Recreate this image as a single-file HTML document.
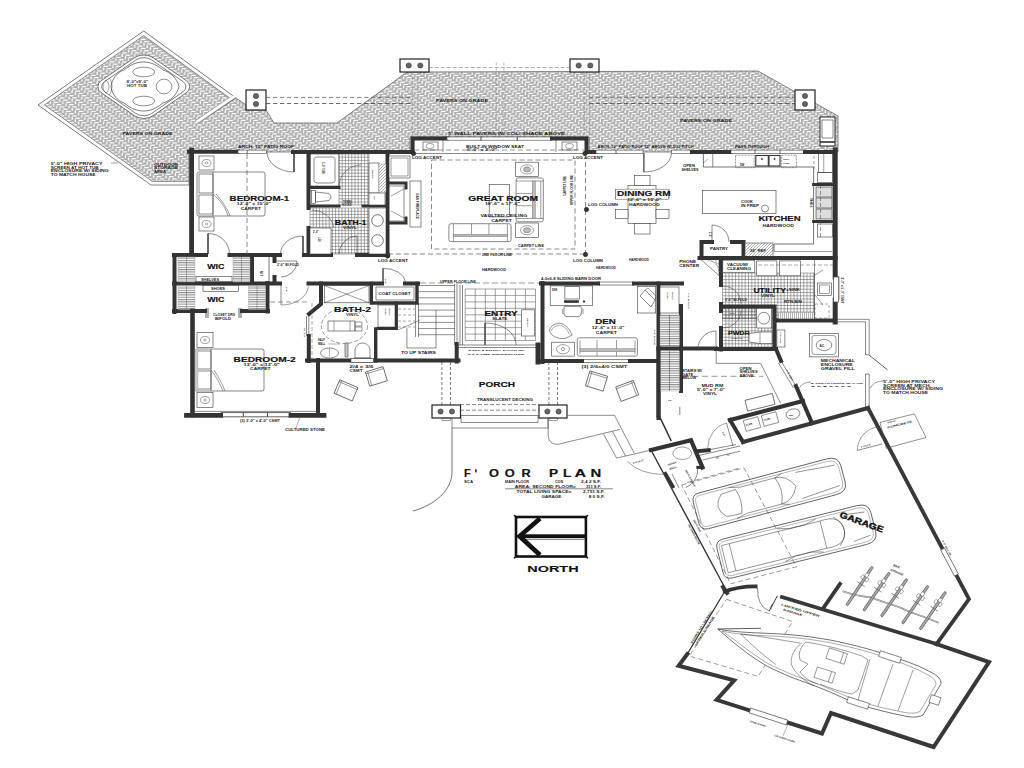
<!DOCTYPE html><html><head><meta charset="utf-8"><style>html,body{margin:0;padding:0;background:#fff;width:1024px;height:768px;overflow:hidden}svg{display:block;font-family:"Liberation Sans",sans-serif}</style></head><body>
<svg width="1024" height="768" viewBox="0 0 1024 768">
<defs><pattern id="pv" width="12.5" height="9" patternUnits="userSpaceOnUse"><rect width="12.5" height="9.0" fill="#afafaf"/><rect x="-12.10" y="-8.45" width="4.6" height="1.25" fill="#fff"/><rect x="-6.55" y="-11.30" width="1.35" height="3.0" fill="#fff"/><rect x="-12.10" y="0.55" width="4.6" height="1.25" fill="#fff"/><rect x="-6.55" y="-2.30" width="1.35" height="3.0" fill="#fff"/><rect x="-12.10" y="9.55" width="4.6" height="1.25" fill="#fff"/><rect x="-6.55" y="6.70" width="1.35" height="3.0" fill="#fff"/><rect x="0.40" y="-8.45" width="4.6" height="1.25" fill="#fff"/><rect x="5.95" y="-11.30" width="1.35" height="3.0" fill="#fff"/><rect x="0.40" y="0.55" width="4.6" height="1.25" fill="#fff"/><rect x="5.95" y="-2.30" width="1.35" height="3.0" fill="#fff"/><rect x="0.40" y="9.55" width="4.6" height="1.25" fill="#fff"/><rect x="5.95" y="6.70" width="1.35" height="3.0" fill="#fff"/><rect x="12.90" y="-8.45" width="4.6" height="1.25" fill="#fff"/><rect x="18.45" y="-11.30" width="1.35" height="3.0" fill="#fff"/><rect x="12.90" y="0.55" width="4.6" height="1.25" fill="#fff"/><rect x="18.45" y="-2.30" width="1.35" height="3.0" fill="#fff"/><rect x="12.90" y="9.55" width="4.6" height="1.25" fill="#fff"/><rect x="18.45" y="6.70" width="1.35" height="3.0" fill="#fff"/><rect x="-8.97" y="-6.20" width="4.6" height="1.25" fill="#fff"/><rect x="-3.42" y="-9.05" width="1.35" height="3.0" fill="#fff"/><rect x="-8.97" y="2.80" width="4.6" height="1.25" fill="#fff"/><rect x="-3.42" y="-0.05" width="1.35" height="3.0" fill="#fff"/><rect x="-8.97" y="11.80" width="4.6" height="1.25" fill="#fff"/><rect x="-3.42" y="8.95" width="1.35" height="3.0" fill="#fff"/><rect x="3.52" y="-6.20" width="4.6" height="1.25" fill="#fff"/><rect x="9.07" y="-9.05" width="1.35" height="3.0" fill="#fff"/><rect x="3.52" y="2.80" width="4.6" height="1.25" fill="#fff"/><rect x="9.07" y="-0.05" width="1.35" height="3.0" fill="#fff"/><rect x="3.52" y="11.80" width="4.6" height="1.25" fill="#fff"/><rect x="9.07" y="8.95" width="1.35" height="3.0" fill="#fff"/><rect x="16.02" y="-6.20" width="4.6" height="1.25" fill="#fff"/><rect x="21.57" y="-9.05" width="1.35" height="3.0" fill="#fff"/><rect x="16.02" y="2.80" width="4.6" height="1.25" fill="#fff"/><rect x="21.57" y="-0.05" width="1.35" height="3.0" fill="#fff"/><rect x="16.02" y="11.80" width="4.6" height="1.25" fill="#fff"/><rect x="21.57" y="8.95" width="1.35" height="3.0" fill="#fff"/><rect x="-5.85" y="-3.95" width="4.6" height="1.25" fill="#fff"/><rect x="-0.30" y="-6.80" width="1.35" height="3.0" fill="#fff"/><rect x="-5.85" y="5.05" width="4.6" height="1.25" fill="#fff"/><rect x="-0.30" y="2.20" width="1.35" height="3.0" fill="#fff"/><rect x="-5.85" y="14.05" width="4.6" height="1.25" fill="#fff"/><rect x="-0.30" y="11.20" width="1.35" height="3.0" fill="#fff"/><rect x="6.65" y="-3.95" width="4.6" height="1.25" fill="#fff"/><rect x="12.20" y="-6.80" width="1.35" height="3.0" fill="#fff"/><rect x="6.65" y="5.05" width="4.6" height="1.25" fill="#fff"/><rect x="12.20" y="2.20" width="1.35" height="3.0" fill="#fff"/><rect x="6.65" y="14.05" width="4.6" height="1.25" fill="#fff"/><rect x="12.20" y="11.20" width="1.35" height="3.0" fill="#fff"/><rect x="19.15" y="-3.95" width="4.6" height="1.25" fill="#fff"/><rect x="24.70" y="-6.80" width="1.35" height="3.0" fill="#fff"/><rect x="19.15" y="5.05" width="4.6" height="1.25" fill="#fff"/><rect x="24.70" y="2.20" width="1.35" height="3.0" fill="#fff"/><rect x="19.15" y="14.05" width="4.6" height="1.25" fill="#fff"/><rect x="24.70" y="11.20" width="1.35" height="3.0" fill="#fff"/><rect x="-2.73" y="-1.70" width="4.6" height="1.25" fill="#fff"/><rect x="2.83" y="-4.55" width="1.35" height="3.0" fill="#fff"/><rect x="-2.73" y="7.30" width="4.6" height="1.25" fill="#fff"/><rect x="2.83" y="4.45" width="1.35" height="3.0" fill="#fff"/><rect x="-2.73" y="16.30" width="4.6" height="1.25" fill="#fff"/><rect x="2.83" y="13.45" width="1.35" height="3.0" fill="#fff"/><rect x="9.78" y="-1.70" width="4.6" height="1.25" fill="#fff"/><rect x="15.32" y="-4.55" width="1.35" height="3.0" fill="#fff"/><rect x="9.78" y="7.30" width="4.6" height="1.25" fill="#fff"/><rect x="15.32" y="4.45" width="1.35" height="3.0" fill="#fff"/><rect x="9.78" y="16.30" width="4.6" height="1.25" fill="#fff"/><rect x="15.32" y="13.45" width="1.35" height="3.0" fill="#fff"/><rect x="22.27" y="-1.70" width="4.6" height="1.25" fill="#fff"/><rect x="27.82" y="-4.55" width="1.35" height="3.0" fill="#fff"/><rect x="22.27" y="7.30" width="4.6" height="1.25" fill="#fff"/><rect x="27.82" y="4.45" width="1.35" height="3.0" fill="#fff"/><rect x="22.27" y="16.30" width="4.6" height="1.25" fill="#fff"/><rect x="27.82" y="13.45" width="1.35" height="3.0" fill="#fff"/></pattern>
<pattern id="hv" width="2" height="2" patternUnits="userSpaceOnUse"><rect width="2" height="2" fill="#fff"/><path d="M0.6,0V2" stroke="#777" stroke-width="0.6"/></pattern><pattern id="hh" width="4" height="2.3" patternUnits="userSpaceOnUse"><rect width="4" height="2.3" fill="#fff"/><path d="M0,0.6H4" stroke="#707070" stroke-width="0.85"/></pattern>
<pattern id="dg" width="3" height="3" patternUnits="userSpaceOnUse"><rect width="3" height="3" fill="#fff"/><path d="M0,3L3,0" stroke="#777" stroke-width="0.6"/></pattern>
</defs>
<rect width="1024" height="768" fill="#fff"/>
<clipPath id="pc"><polygon points="143.7,31 234.6,97 246,105 246,110 266,110 274,123 337,123 407,72 758,71 838,116 838,152 589,152 589,137 410,137 410,152 189,152 189,185 151,185 38,105"/></clipPath>
<polygon points="143.7,31.0 234.6,97.0 246.0,105.0 246.0,110.0 266.0,110.0 274.0,123.0 337.0,123.0 407.0,72.0 758.0,71.0 838.0,116.0 838.0,152.0 589.0,152.0 589.0,137.0 410.0,137.0 410.0,152.0 189.0,152.0 189.0,185.0 151.0,185.0 38.0,105.0" fill="url(#pv)" stroke="none" stroke-width="0"/>
<g clip-path="url(#pc)">
<path d="M234.6,97 L143.7,31 L38,105 L151,185 L189,185" fill="none" stroke="#777" stroke-width="8.2"/>
<path d="M234.6,97 L143.7,31 L38,105 L151,185 L189,185" fill="none" stroke="#fff" stroke-width="6.6"/>
</g>
<polygon points="143.7,31.0 234.6,97.0 246.0,105.0 246.0,110.0 266.0,110.0 274.0,123.0 337.0,123.0 407.0,72.0 758.0,71.0 838.0,116.0 838.0,152.0 589.0,152.0 589.0,137.0 410.0,137.0 410.0,152.0 189.0,152.0 189.0,185.0 151.0,185.0 38.0,105.0" fill="none" stroke="#555" stroke-width="0.7"/>
<path d="M234.6,97 L196.5,122" fill="none" stroke="#777" stroke-width="4.2"/>
<path d="M234.9,96 L196.5,122" fill="none" stroke="#fff" stroke-width="2.8"/>
<g transform="translate(143.8 86.7) scale(1 0.69) rotate(45)"><rect x="-36.3" y="-36.3" width="72.6" height="72.6" rx="13" fill="#fff" stroke="#555" stroke-width="0.8" vector-effect="non-scaling-stroke"/><rect x="-33" y="-33" width="66" height="66" rx="11" fill="#fff" stroke="#444" stroke-width="0.7" vector-effect="non-scaling-stroke"/></g>
<path d="M143.7,62 C152,62 158,66 163,70 C170,72 177,78 179,86.5 C177,95 170,101 163,103 C158,107 152,111 143.7,111 C135,111 129,107 124,103 C118,101 112,95 111,86.5 C112,78 118,72 124,70 C129,66 135,62 143.7,62 Z" fill="none" stroke="#444" stroke-width="0.7"/>
<ellipse cx="143.7" cy="72" rx="11" ry="4.8" fill="#fff" stroke="#444" stroke-width="0.6"/>
<ellipse cx="143.7" cy="101" rx="11" ry="4.8" fill="#fff" stroke="#444" stroke-width="0.6"/>
<ellipse cx="164" cy="86.5" rx="7.8" ry="7.4" fill="#fff" stroke="#444" stroke-width="0.6"/>
<path d="M106,80 C110,83 110,90 106,93 C102,90 102,83 106,80 Z M109,78 C113,82 113,91 109,95" fill="none" stroke="#444" stroke-width="0.5"/>
<text x="126.5" y="82.5" font-size="3.2" font-weight="bold" textLength="21.5" lengthAdjust="spacingAndGlyphs" text-anchor="start" fill="#333">8'-0"x8'-0"</text>
<text x="127" y="86.8" font-size="3.2" font-weight="bold" textLength="20" lengthAdjust="spacingAndGlyphs" text-anchor="start" fill="#333">HOT TUB</text>
<text x="122.5" y="135" font-size="3" font-weight="bold" textLength="50" lengthAdjust="spacingAndGlyphs" text-anchor="start" fill="#222">PAVERS ON GRADE</text>
<rect x="246" y="90" width="20" height="20" rx="0" fill="#fff" stroke="#222" stroke-width="1.2"/>
<circle cx="256.0" cy="96.0" r="2.6" fill="#666" stroke="#333" stroke-width="0.6"/>
<circle cx="256.0" cy="104.0" r="2.6" fill="#666" stroke="#333" stroke-width="0.6"/>
<rect x="400" y="59" width="29" height="13" rx="0" fill="#fff" stroke="#222" stroke-width="1.2"/>
<circle cx="408.7" cy="65.5" r="2.6" fill="#666" stroke="#333" stroke-width="0.6"/>
<circle cx="420.3" cy="65.5" r="2.6" fill="#666" stroke="#333" stroke-width="0.6"/>
<rect x="570" y="59" width="29" height="13" rx="0" fill="#fff" stroke="#222" stroke-width="1.2"/>
<circle cx="578.7" cy="65.5" r="2.6" fill="#666" stroke="#333" stroke-width="0.6"/>
<circle cx="590.3" cy="65.5" r="2.6" fill="#666" stroke="#333" stroke-width="0.6"/>
<rect x="795" y="90" width="20" height="20" rx="0" fill="#fff" stroke="#222" stroke-width="1.2"/>
<circle cx="805.0" cy="96.0" r="2.6" fill="#666" stroke="#333" stroke-width="0.6"/>
<circle cx="805.0" cy="104.0" r="2.6" fill="#666" stroke="#333" stroke-width="0.6"/>
<line x1="266" y1="97.4" x2="412" y2="97.4" stroke="#555" stroke-width="0.75" stroke-dasharray="4.3,2.7"/>
<line x1="266" y1="103.5" x2="412" y2="103.5" stroke="#444" stroke-width="0.8" stroke-dasharray="4.3,2.7"/>
<line x1="589" y1="97.4" x2="795" y2="97.4" stroke="#555" stroke-width="0.75" stroke-dasharray="4.3,2.7"/>
<line x1="589" y1="103.5" x2="795" y2="103.5" stroke="#444" stroke-width="0.8" stroke-dasharray="4.3,2.7"/>
<line x1="412.6" y1="72" x2="412.6" y2="137" stroke="#888" stroke-width="0.6" stroke-dasharray="3,2"/>
<line x1="418" y1="72" x2="418" y2="137" stroke="#888" stroke-width="0.6" stroke-dasharray="3,2"/>
<line x1="496.3" y1="62.5" x2="496.3" y2="137" stroke="#888" stroke-width="0.6" stroke-dasharray="3,2"/>
<line x1="503.9" y1="62.5" x2="503.9" y2="137" stroke="#888" stroke-width="0.6" stroke-dasharray="3,2"/>
<line x1="584.4" y1="72" x2="584.4" y2="137" stroke="#888" stroke-width="0.6" stroke-dasharray="3,2"/>
<line x1="589.8" y1="72" x2="589.8" y2="137" stroke="#888" stroke-width="0.6" stroke-dasharray="3,2"/>
<line x1="428.7" y1="67.5" x2="570" y2="67.5" stroke="#777" stroke-width="0.6" stroke-dasharray="4,2"/>
<text x="436" y="101.5" font-size="3" font-weight="bold" textLength="52" lengthAdjust="spacingAndGlyphs" text-anchor="start" fill="#222">PAVERS ON GRADE</text>
<text x="680" y="121.5" font-size="3" font-weight="bold" textLength="52" lengthAdjust="spacingAndGlyphs" text-anchor="start" fill="#222">PAVERS ON GRADE</text>
<rect x="820" y="117" width="15" height="29" rx="0" fill="#fff" stroke="#222" stroke-width="1"/>
<rect x="822" y="120" width="11" height="18" rx="0" fill="none" stroke="#3a3a3a" stroke-width="0.6"/>
<line x1="820" y1="142" x2="835" y2="142" stroke="#222" stroke-width="1.5"/>
<line x1="342.2" y1="154" x2="342.2" y2="205" stroke="#555" stroke-width="0.5"/>
<line x1="345.4" y1="154" x2="345.4" y2="205" stroke="#555" stroke-width="0.5"/>
<line x1="348.6" y1="154" x2="348.6" y2="205" stroke="#555" stroke-width="0.5"/>
<line x1="351.8" y1="154" x2="351.8" y2="205" stroke="#555" stroke-width="0.5"/>
<line x1="355.0" y1="154" x2="355.0" y2="205" stroke="#555" stroke-width="0.5"/>
<line x1="358.2" y1="154" x2="358.2" y2="205" stroke="#555" stroke-width="0.5"/>
<line x1="361.4" y1="154" x2="361.4" y2="205" stroke="#555" stroke-width="0.5"/>
<line x1="364.6" y1="154" x2="364.6" y2="205" stroke="#555" stroke-width="0.5"/>
<line x1="367.8" y1="154" x2="367.8" y2="205" stroke="#555" stroke-width="0.5"/>
<line x1="339" y1="157.2" x2="369" y2="157.2" stroke="#555" stroke-width="0.5"/>
<line x1="339" y1="160.4" x2="369" y2="160.4" stroke="#555" stroke-width="0.5"/>
<line x1="339" y1="163.6" x2="369" y2="163.6" stroke="#555" stroke-width="0.5"/>
<line x1="339" y1="166.8" x2="369" y2="166.8" stroke="#555" stroke-width="0.5"/>
<line x1="339" y1="170.0" x2="369" y2="170.0" stroke="#555" stroke-width="0.5"/>
<line x1="339" y1="173.2" x2="369" y2="173.2" stroke="#555" stroke-width="0.5"/>
<line x1="339" y1="176.4" x2="369" y2="176.4" stroke="#555" stroke-width="0.5"/>
<line x1="339" y1="179.6" x2="369" y2="179.6" stroke="#555" stroke-width="0.5"/>
<line x1="339" y1="182.8" x2="369" y2="182.8" stroke="#555" stroke-width="0.5"/>
<line x1="339" y1="186.0" x2="369" y2="186.0" stroke="#555" stroke-width="0.5"/>
<line x1="339" y1="189.2" x2="369" y2="189.2" stroke="#555" stroke-width="0.5"/>
<line x1="339" y1="192.4" x2="369" y2="192.4" stroke="#555" stroke-width="0.5"/>
<line x1="339" y1="195.6" x2="369" y2="195.6" stroke="#555" stroke-width="0.5"/>
<line x1="339" y1="198.8" x2="369" y2="198.8" stroke="#555" stroke-width="0.5"/>
<line x1="339" y1="202.0" x2="369" y2="202.0" stroke="#555" stroke-width="0.5"/>
<rect x="339" y="154" width="30" height="51" rx="0" fill="none" stroke="#555" stroke-width="0.5"/>
<line x1="313.2" y1="208" x2="313.2" y2="254" stroke="#555" stroke-width="0.5"/>
<line x1="316.4" y1="208" x2="316.4" y2="254" stroke="#555" stroke-width="0.5"/>
<line x1="319.6" y1="208" x2="319.6" y2="254" stroke="#555" stroke-width="0.5"/>
<line x1="322.8" y1="208" x2="322.8" y2="254" stroke="#555" stroke-width="0.5"/>
<line x1="326.0" y1="208" x2="326.0" y2="254" stroke="#555" stroke-width="0.5"/>
<line x1="329.2" y1="208" x2="329.2" y2="254" stroke="#555" stroke-width="0.5"/>
<line x1="332.4" y1="208" x2="332.4" y2="254" stroke="#555" stroke-width="0.5"/>
<line x1="335.6" y1="208" x2="335.6" y2="254" stroke="#555" stroke-width="0.5"/>
<line x1="338.8" y1="208" x2="338.8" y2="254" stroke="#555" stroke-width="0.5"/>
<line x1="342.0" y1="208" x2="342.0" y2="254" stroke="#555" stroke-width="0.5"/>
<line x1="345.2" y1="208" x2="345.2" y2="254" stroke="#555" stroke-width="0.5"/>
<line x1="348.4" y1="208" x2="348.4" y2="254" stroke="#555" stroke-width="0.5"/>
<line x1="351.6" y1="208" x2="351.6" y2="254" stroke="#555" stroke-width="0.5"/>
<line x1="354.8" y1="208" x2="354.8" y2="254" stroke="#555" stroke-width="0.5"/>
<line x1="358.0" y1="208" x2="358.0" y2="254" stroke="#555" stroke-width="0.5"/>
<line x1="361.2" y1="208" x2="361.2" y2="254" stroke="#555" stroke-width="0.5"/>
<line x1="364.4" y1="208" x2="364.4" y2="254" stroke="#555" stroke-width="0.5"/>
<line x1="367.6" y1="208" x2="367.6" y2="254" stroke="#555" stroke-width="0.5"/>
<line x1="310" y1="211.2" x2="369" y2="211.2" stroke="#555" stroke-width="0.5"/>
<line x1="310" y1="214.4" x2="369" y2="214.4" stroke="#555" stroke-width="0.5"/>
<line x1="310" y1="217.6" x2="369" y2="217.6" stroke="#555" stroke-width="0.5"/>
<line x1="310" y1="220.8" x2="369" y2="220.8" stroke="#555" stroke-width="0.5"/>
<line x1="310" y1="224.0" x2="369" y2="224.0" stroke="#555" stroke-width="0.5"/>
<line x1="310" y1="227.2" x2="369" y2="227.2" stroke="#555" stroke-width="0.5"/>
<line x1="310" y1="230.4" x2="369" y2="230.4" stroke="#555" stroke-width="0.5"/>
<line x1="310" y1="233.6" x2="369" y2="233.6" stroke="#555" stroke-width="0.5"/>
<line x1="310" y1="236.8" x2="369" y2="236.8" stroke="#555" stroke-width="0.5"/>
<line x1="310" y1="240.0" x2="369" y2="240.0" stroke="#555" stroke-width="0.5"/>
<line x1="310" y1="243.2" x2="369" y2="243.2" stroke="#555" stroke-width="0.5"/>
<line x1="310" y1="246.4" x2="369" y2="246.4" stroke="#555" stroke-width="0.5"/>
<line x1="310" y1="249.6" x2="369" y2="249.6" stroke="#555" stroke-width="0.5"/>
<line x1="310" y1="252.8" x2="369" y2="252.8" stroke="#555" stroke-width="0.5"/>
<rect x="310" y="208" width="59" height="46" rx="0" fill="none" stroke="#555" stroke-width="0.5"/>
<line x1="725.8" y1="273" x2="725.8" y2="318.8" stroke="#555" stroke-width="0.5"/>
<line x1="729.0" y1="273" x2="729.0" y2="318.8" stroke="#555" stroke-width="0.5"/>
<line x1="732.2" y1="273" x2="732.2" y2="318.8" stroke="#555" stroke-width="0.5"/>
<line x1="735.5" y1="273" x2="735.5" y2="318.8" stroke="#555" stroke-width="0.5"/>
<line x1="738.8" y1="273" x2="738.8" y2="318.8" stroke="#555" stroke-width="0.5"/>
<line x1="742.0" y1="273" x2="742.0" y2="318.8" stroke="#555" stroke-width="0.5"/>
<line x1="745.2" y1="273" x2="745.2" y2="318.8" stroke="#555" stroke-width="0.5"/>
<line x1="748.5" y1="273" x2="748.5" y2="318.8" stroke="#555" stroke-width="0.5"/>
<line x1="751.8" y1="273" x2="751.8" y2="318.8" stroke="#555" stroke-width="0.5"/>
<line x1="755.0" y1="273" x2="755.0" y2="318.8" stroke="#555" stroke-width="0.5"/>
<line x1="758.2" y1="273" x2="758.2" y2="318.8" stroke="#555" stroke-width="0.5"/>
<line x1="761.5" y1="273" x2="761.5" y2="318.8" stroke="#555" stroke-width="0.5"/>
<line x1="764.8" y1="273" x2="764.8" y2="318.8" stroke="#555" stroke-width="0.5"/>
<line x1="768.0" y1="273" x2="768.0" y2="318.8" stroke="#555" stroke-width="0.5"/>
<line x1="771.2" y1="273" x2="771.2" y2="318.8" stroke="#555" stroke-width="0.5"/>
<line x1="774.5" y1="273" x2="774.5" y2="318.8" stroke="#555" stroke-width="0.5"/>
<line x1="777.8" y1="273" x2="777.8" y2="318.8" stroke="#555" stroke-width="0.5"/>
<line x1="781.0" y1="273" x2="781.0" y2="318.8" stroke="#555" stroke-width="0.5"/>
<line x1="784.2" y1="273" x2="784.2" y2="318.8" stroke="#555" stroke-width="0.5"/>
<line x1="787.5" y1="273" x2="787.5" y2="318.8" stroke="#555" stroke-width="0.5"/>
<line x1="790.8" y1="273" x2="790.8" y2="318.8" stroke="#555" stroke-width="0.5"/>
<line x1="794.0" y1="273" x2="794.0" y2="318.8" stroke="#555" stroke-width="0.5"/>
<line x1="797.2" y1="273" x2="797.2" y2="318.8" stroke="#555" stroke-width="0.5"/>
<line x1="800.5" y1="273" x2="800.5" y2="318.8" stroke="#555" stroke-width="0.5"/>
<line x1="803.8" y1="273" x2="803.8" y2="318.8" stroke="#555" stroke-width="0.5"/>
<line x1="807.0" y1="273" x2="807.0" y2="318.8" stroke="#555" stroke-width="0.5"/>
<line x1="810.2" y1="273" x2="810.2" y2="318.8" stroke="#555" stroke-width="0.5"/>
<line x1="813.5" y1="273" x2="813.5" y2="318.8" stroke="#555" stroke-width="0.5"/>
<line x1="722.5" y1="276.2" x2="814.5" y2="276.2" stroke="#555" stroke-width="0.5"/>
<line x1="722.5" y1="279.5" x2="814.5" y2="279.5" stroke="#555" stroke-width="0.5"/>
<line x1="722.5" y1="282.8" x2="814.5" y2="282.8" stroke="#555" stroke-width="0.5"/>
<line x1="722.5" y1="286.0" x2="814.5" y2="286.0" stroke="#555" stroke-width="0.5"/>
<line x1="722.5" y1="289.2" x2="814.5" y2="289.2" stroke="#555" stroke-width="0.5"/>
<line x1="722.5" y1="292.5" x2="814.5" y2="292.5" stroke="#555" stroke-width="0.5"/>
<line x1="722.5" y1="295.8" x2="814.5" y2="295.8" stroke="#555" stroke-width="0.5"/>
<line x1="722.5" y1="299.0" x2="814.5" y2="299.0" stroke="#555" stroke-width="0.5"/>
<line x1="722.5" y1="302.2" x2="814.5" y2="302.2" stroke="#555" stroke-width="0.5"/>
<line x1="722.5" y1="305.5" x2="814.5" y2="305.5" stroke="#555" stroke-width="0.5"/>
<line x1="722.5" y1="308.8" x2="814.5" y2="308.8" stroke="#555" stroke-width="0.5"/>
<line x1="722.5" y1="312.0" x2="814.5" y2="312.0" stroke="#555" stroke-width="0.5"/>
<line x1="722.5" y1="315.2" x2="814.5" y2="315.2" stroke="#555" stroke-width="0.5"/>
<line x1="722.5" y1="318.5" x2="814.5" y2="318.5" stroke="#555" stroke-width="0.5"/>
<rect x="722.5" y="273" width="92" height="45.8" rx="0" fill="none" stroke="#555" stroke-width="0.5"/>
<line x1="725.8" y1="308" x2="725.8" y2="347.5" stroke="#555" stroke-width="0.5"/>
<line x1="729.0" y1="308" x2="729.0" y2="347.5" stroke="#555" stroke-width="0.5"/>
<line x1="732.2" y1="308" x2="732.2" y2="347.5" stroke="#555" stroke-width="0.5"/>
<line x1="735.5" y1="308" x2="735.5" y2="347.5" stroke="#555" stroke-width="0.5"/>
<line x1="738.8" y1="308" x2="738.8" y2="347.5" stroke="#555" stroke-width="0.5"/>
<line x1="742.0" y1="308" x2="742.0" y2="347.5" stroke="#555" stroke-width="0.5"/>
<line x1="745.2" y1="308" x2="745.2" y2="347.5" stroke="#555" stroke-width="0.5"/>
<line x1="748.5" y1="308" x2="748.5" y2="347.5" stroke="#555" stroke-width="0.5"/>
<line x1="751.8" y1="308" x2="751.8" y2="347.5" stroke="#555" stroke-width="0.5"/>
<line x1="755.0" y1="308" x2="755.0" y2="347.5" stroke="#555" stroke-width="0.5"/>
<line x1="758.2" y1="308" x2="758.2" y2="347.5" stroke="#555" stroke-width="0.5"/>
<line x1="761.5" y1="308" x2="761.5" y2="347.5" stroke="#555" stroke-width="0.5"/>
<line x1="764.8" y1="308" x2="764.8" y2="347.5" stroke="#555" stroke-width="0.5"/>
<line x1="768.0" y1="308" x2="768.0" y2="347.5" stroke="#555" stroke-width="0.5"/>
<line x1="771.2" y1="308" x2="771.2" y2="347.5" stroke="#555" stroke-width="0.5"/>
<line x1="722.5" y1="311.2" x2="772.5" y2="311.2" stroke="#555" stroke-width="0.5"/>
<line x1="722.5" y1="314.5" x2="772.5" y2="314.5" stroke="#555" stroke-width="0.5"/>
<line x1="722.5" y1="317.8" x2="772.5" y2="317.8" stroke="#555" stroke-width="0.5"/>
<line x1="722.5" y1="321.0" x2="772.5" y2="321.0" stroke="#555" stroke-width="0.5"/>
<line x1="722.5" y1="324.2" x2="772.5" y2="324.2" stroke="#555" stroke-width="0.5"/>
<line x1="722.5" y1="327.5" x2="772.5" y2="327.5" stroke="#555" stroke-width="0.5"/>
<line x1="722.5" y1="330.8" x2="772.5" y2="330.8" stroke="#555" stroke-width="0.5"/>
<line x1="722.5" y1="334.0" x2="772.5" y2="334.0" stroke="#555" stroke-width="0.5"/>
<line x1="722.5" y1="337.2" x2="772.5" y2="337.2" stroke="#555" stroke-width="0.5"/>
<line x1="722.5" y1="340.5" x2="772.5" y2="340.5" stroke="#555" stroke-width="0.5"/>
<line x1="722.5" y1="343.8" x2="772.5" y2="343.8" stroke="#555" stroke-width="0.5"/>
<line x1="722.5" y1="347.0" x2="772.5" y2="347.0" stroke="#555" stroke-width="0.5"/>
<rect x="722.5" y="308" width="50" height="39.5" rx="0" fill="none" stroke="#555" stroke-width="0.5"/>
<polyline points="189,151.8 238,151.8" fill="none" stroke="#333333" stroke-width="4" stroke-linecap="square" stroke-linejoin="miter"/>
<rect x="238" y="150.10000000000002" width="28.5" height="3.4" rx="0" fill="#fff" stroke="#444" stroke-width="0.6"/>
<line x1="247.2" y1="150.10000000000002" x2="247.2" y2="153.5" stroke="#444" stroke-width="0.8"/>
<text x="238" y="148.3" font-size="2.8" font-weight="bold" textLength="56" lengthAdjust="spacingAndGlyphs" text-anchor="start" fill="#222">ARCH. 12" PATIO ROOF</text>
<path d="M294,152 L294,172 A27,20 0 0 1 267,152" fill="none" stroke="#3a3a3a" stroke-width="0.6"/>
<line x1="294" y1="152" x2="294" y2="172" stroke="#333" stroke-width="1.3"/>
<polyline points="293,152 412.6,152 412.6,138.4 447,138.4" fill="none" stroke="#333333" stroke-width="4" stroke-linecap="square" stroke-linejoin="miter"/>
<rect x="447" y="137.0" width="105" height="3.2" rx="0" fill="#fff" stroke="#444" stroke-width="0.6"/>
<polyline points="552,138.4 586.5,138.4 586.5,152 596,152" fill="none" stroke="#333333" stroke-width="4" stroke-linecap="square" stroke-linejoin="miter"/>
<rect x="596" y="150.10000000000002" width="47" height="3.4" rx="0" fill="#fff" stroke="#444" stroke-width="0.6"/>
<line x1="616" y1="150.10000000000002" x2="616" y2="153.5" stroke="#444" stroke-width="0.8"/>
<path d="M643.9,153 L643.9,172 A27.5,19 0 0 0 671.4,153" fill="none" stroke="#3a3a3a" stroke-width="0.6"/>
<line x1="643.9" y1="153" x2="643.9" y2="172" stroke="#444" stroke-width="1.0"/>
<rect x="671.4" y="150.10000000000002" width="20.600000000000023" height="3.4" rx="0" fill="#fff" stroke="#444" stroke-width="0.6"/>
<polyline points="692,152 731,152" fill="none" stroke="#333333" stroke-width="4" stroke-linecap="square" stroke-linejoin="miter"/>
<rect x="731" y="150.10000000000002" width="74" height="3.4" rx="0" fill="#fff" stroke="#444" stroke-width="0.6"/>
<line x1="755" y1="150.10000000000002" x2="755" y2="153.5" stroke="#444" stroke-width="0.8"/>
<line x1="780" y1="150.10000000000002" x2="780" y2="153.5" stroke="#444" stroke-width="0.8"/>
<polyline points="805,152 833,152" fill="none" stroke="#333333" stroke-width="4" stroke-linecap="square" stroke-linejoin="miter"/>
<polyline points="835.2,150 835.2,277" fill="none" stroke="#333333" stroke-width="5" stroke-linecap="square" stroke-linejoin="miter"/>
<rect x="834" y="277" width="5" height="23" rx="0" fill="#fff" stroke="#3a3a3a" stroke-width="0.6"/>
<polyline points="835.2,300 835.2,322" fill="none" stroke="#333333" stroke-width="5" stroke-linecap="square" stroke-linejoin="miter"/>
<polyline points="776,320.5 835,320.5" fill="none" stroke="#333333" stroke-width="4" stroke-linecap="square" stroke-linejoin="miter"/>
<line x1="410" y1="153.5" x2="587" y2="153.5" stroke="#3a3a3a" stroke-width="0.6"/>
<line x1="414" y1="150" x2="584" y2="150" stroke="#555" stroke-width="0.6" stroke-dasharray="5,3"/>
<line x1="443" y1="140" x2="443" y2="152" stroke="#3a3a3a" stroke-width="0.6"/>
<line x1="556" y1="140" x2="556" y2="152" stroke="#3a3a3a" stroke-width="0.6"/>
<rect x="423" y="142" width="15" height="8" rx="0" fill="none" stroke="#3a3a3a" stroke-width="0.6"/>
<rect x="562" y="142" width="15" height="8" rx="0" fill="none" stroke="#3a3a3a" stroke-width="0.6"/>
<ellipse cx="430" cy="146" rx="4" ry="2.6" fill="none" stroke="#444" stroke-width="0.5"/>
<ellipse cx="569.5" cy="146" rx="4" ry="2.6" fill="none" stroke="#444" stroke-width="0.5"/>
<text x="466" y="147.5" font-size="3" font-weight="bold" textLength="58" lengthAdjust="spacingAndGlyphs" text-anchor="start" fill="#222">BUILT-IN WINDOW SEAT</text>
<text x="467" y="151" font-size="2.6" font-weight="bold" textLength="30" lengthAdjust="spacingAndGlyphs" text-anchor="start" fill="#222">6'-0" x 2'-0"</text>
<text x="448" y="134.5" font-size="2.8" font-weight="bold" textLength="117" lengthAdjust="spacingAndGlyphs" text-anchor="start" fill="#222">5' WALL PAVERS W/ COL/ SHADE ABOVE</text>
<line x1="481" y1="137" x2="481" y2="140.5" stroke="#444" stroke-width="1"/>
<line x1="517.2" y1="137" x2="517.2" y2="140.5" stroke="#444" stroke-width="1"/>
<circle cx="413.5" cy="153.5" r="2.2" fill="#333" stroke="#222" stroke-width="0.6"/>
<circle cx="585" cy="153.5" r="2.2" fill="#333" stroke="#222" stroke-width="0.6"/>
<text x="412" y="159" font-size="2.8" font-weight="bold" textLength="30" lengthAdjust="spacingAndGlyphs" text-anchor="start" fill="#222">LOG ACCENT</text>
<text x="573" y="159" font-size="2.8" font-weight="bold" textLength="30" lengthAdjust="spacingAndGlyphs" text-anchor="start" fill="#222">LOG ACCENT</text>
<text x="597.6" y="148.3" font-size="2.8" font-weight="bold" textLength="96" lengthAdjust="spacingAndGlyphs" text-anchor="start" fill="#222">ARCH. 12" PATIO ROOF 12" ABOVE W/ 5/12 PITCH</text>
<text x="735" y="148" font-size="2.6" font-weight="bold" textLength="34" lengthAdjust="spacingAndGlyphs" text-anchor="start" fill="#222">PASS THROUGH</text>
<polyline points="191.6,150 191.6,256" fill="none" stroke="#333333" stroke-width="4.8" stroke-linecap="square" stroke-linejoin="miter"/>
<polyline points="308.5,152 308.5,208" fill="none" stroke="#333333" stroke-width="4" stroke-linecap="square" stroke-linejoin="miter"/>
<polyline points="308.5,228 308.5,255" fill="none" stroke="#333333" stroke-width="4" stroke-linecap="square" stroke-linejoin="miter"/>
<polyline points="387.5,152 387.5,255" fill="none" stroke="#333333" stroke-width="4" stroke-linecap="square" stroke-linejoin="miter"/>
<polyline points="174,255 206,255" fill="none" stroke="#333333" stroke-width="4" stroke-linecap="square" stroke-linejoin="miter"/>
<polyline points="229.5,255 280,255" fill="none" stroke="#333333" stroke-width="4" stroke-linecap="square" stroke-linejoin="miter"/>
<polyline points="304,255 331,255" fill="none" stroke="#333333" stroke-width="4" stroke-linecap="square" stroke-linejoin="miter"/>
<polyline points="357,255 388,255" fill="none" stroke="#333333" stroke-width="4" stroke-linecap="square" stroke-linejoin="miter"/>
<circle cx="387.6" cy="256" r="2.2" fill="#333" stroke="#222" stroke-width="0.6"/>
<text x="378" y="262" font-size="2.8" font-weight="bold" textLength="30" lengthAdjust="spacingAndGlyphs" text-anchor="start" fill="#222">LOG ACCENT</text>
<path d="M208,254 L208,233.5 A21.5,20.5 0 0 1 229.5,254" fill="none" stroke="#3a3a3a" stroke-width="0.6"/>
<line x1="208" y1="254" x2="208" y2="233.5" stroke="#333" stroke-width="1.3"/>
<path d="M303,254 L303,236 A22.5,18 0 0 0 280.5,254" fill="none" stroke="#3a3a3a" stroke-width="0.6"/>
<line x1="303" y1="254" x2="303" y2="236" stroke="#333" stroke-width="1.3"/>
<rect x="197" y="172" width="68" height="44" rx="2" fill="#fff" stroke="#555" stroke-width="0.7"/>
<rect x="199" y="174" width="14" height="19" rx="0" fill="none" stroke="#3a3a3a" stroke-width="0.6"/>
<rect x="199" y="195" width="14" height="19" rx="0" fill="none" stroke="#3a3a3a" stroke-width="0.6"/>
<line x1="213" y1="172" x2="213" y2="216" stroke="#3a3a3a" stroke-width="0.6"/>
<path d="M213,194 C220,200 226,208 228,216 M216,194 C223,202 228,210 230,216" fill="none" stroke="#3a3a3a" stroke-width="0.5"/>
<rect x="199" y="156" width="15" height="14" rx="0" fill="none" stroke="#3a3a3a" stroke-width="0.6"/>
<ellipse cx="206.5" cy="163" rx="4.5" ry="3.5" fill="none" stroke="#444" stroke-width="0.5"/>
<circle cx="206.5" cy="163" r="1.2" fill="none" stroke="#3a3a3a" stroke-width="0.4"/>
<rect x="199" y="217" width="15" height="14" rx="0" fill="none" stroke="#3a3a3a" stroke-width="0.6"/>
<ellipse cx="206.5" cy="224" rx="4.5" ry="3.5" fill="none" stroke="#444" stroke-width="0.5"/>
<circle cx="206.5" cy="224" r="1.2" fill="none" stroke="#3a3a3a" stroke-width="0.4"/>
<line x1="247" y1="154" x2="247" y2="254" stroke="#555" stroke-width="0.7" stroke-dasharray="5,3"/>
<text x="229.6" y="201.4" font-size="7.45" font-weight="bold" textLength="59.7" lengthAdjust="spacingAndGlyphs" fill="#111" stroke="#111" stroke-width="0.15">BEDROOM-1</text>
<text x="236.8" y="205.3" font-size="2.76" font-weight="bold" textLength="34.0" lengthAdjust="spacingAndGlyphs" text-anchor="start" fill="#222">12'-0" x 15'-0"</text>
<text x="240.7" y="209.6" font-size="3.1739999999999764" font-weight="bold" textLength="20.30000000000001" lengthAdjust="spacingAndGlyphs" text-anchor="start" fill="#222">CARPET</text>
<polyline points="174.5,255 174.5,312" fill="none" stroke="#333333" stroke-width="4" stroke-linecap="square" stroke-linejoin="miter"/>
<polyline points="252,255 252,283" fill="none" stroke="#333333" stroke-width="4" stroke-linecap="square" stroke-linejoin="miter"/>
<polyline points="174,283.5 280,283.5" fill="none" stroke="#333333" stroke-width="4" stroke-linecap="square" stroke-linejoin="miter"/>
<polyline points="267.5,283 267.5,311.5" fill="none" stroke="#333333" stroke-width="4" stroke-linecap="square" stroke-linejoin="miter"/>
<polyline points="174,311 205,311" fill="none" stroke="#333333" stroke-width="4" stroke-linecap="square" stroke-linejoin="miter"/>
<polyline points="242,311 268,311" fill="none" stroke="#333333" stroke-width="4" stroke-linecap="square" stroke-linejoin="miter"/>
<polyline points="274.5,255 274.5,261" fill="none" stroke="#333333" stroke-width="4" stroke-linecap="square" stroke-linejoin="miter"/>
<polyline points="274.5,277 274.5,283" fill="none" stroke="#333333" stroke-width="4" stroke-linecap="square" stroke-linejoin="miter"/>
<line x1="269" y1="257" x2="269" y2="282" stroke="#3a3a3a" stroke-width="0.7"/>
<rect x="178" y="257" width="17" height="25" rx="0" fill="url(#hh)" stroke="#999" stroke-width="0.4"/>
<line x1="186.5" y1="257" x2="186.5" y2="282" stroke="#666" stroke-width="0.5"/>
<rect x="233" y="257" width="17" height="25" rx="0" fill="url(#hh)" stroke="#999" stroke-width="0.4"/>
<line x1="241.5" y1="257" x2="241.5" y2="282" stroke="#666" stroke-width="0.5"/>
<rect x="178" y="285.5" width="17" height="24.0" rx="0" fill="url(#hh)" stroke="#999" stroke-width="0.4"/>
<line x1="186.5" y1="285.5" x2="186.5" y2="309.5" stroke="#666" stroke-width="0.5"/>
<rect x="248.5" y="286" width="17.0" height="23.5" rx="0" fill="url(#hh)" stroke="#999" stroke-width="0.4"/>
<line x1="257.0" y1="286" x2="257.0" y2="309.5" stroke="#666" stroke-width="0.5"/>
<text x="207.2" y="268.9" font-size="6.49" font-weight="bold" textLength="17.2" lengthAdjust="spacingAndGlyphs" fill="#111" stroke="#111" stroke-width="0.15">WIC</text>
<text x="207.2" y="301.7" font-size="6.49" font-weight="bold" textLength="17.2" lengthAdjust="spacingAndGlyphs" fill="#111" stroke="#111" stroke-width="0.15">WIC</text>
<rect x="196" y="276.5" width="36" height="5.2" rx="0" fill="#fff" stroke="#3a3a3a" stroke-width="0.6"/>
<text x="201" y="280.6" font-size="2.6" font-weight="bold" textLength="18" lengthAdjust="spacingAndGlyphs" text-anchor="start" fill="#222">SHELVES</text>
<rect x="203" y="285.5" width="35.5" height="6" rx="0" fill="#fff" stroke="#3a3a3a" stroke-width="0.6"/>
<text x="211" y="290" font-size="2.6" font-weight="bold" textLength="14" lengthAdjust="spacingAndGlyphs" text-anchor="start" fill="#222">SHOES</text>
<text x="213" y="316" font-size="2.6" font-weight="bold" textLength="22" lengthAdjust="spacingAndGlyphs" text-anchor="start" fill="#222">CLOSET DRS</text>
<text x="215" y="319.5" font-size="2.6" font-weight="bold" textLength="16" lengthAdjust="spacingAndGlyphs" text-anchor="start" fill="#222">BIFOLD</text>
<line x1="206" y1="308" x2="206" y2="318" stroke="#3a3a3a" stroke-width="0.8"/>
<line x1="208" y1="308" x2="208" y2="318" stroke="#3a3a3a" stroke-width="0.8"/>
<line x1="239" y1="308" x2="239" y2="318" stroke="#3a3a3a" stroke-width="0.8"/>
<line x1="241" y1="308" x2="241" y2="318" stroke="#3a3a3a" stroke-width="0.8"/>
<text x="263" y="276" font-size="3" font-weight="bold" transform="rotate(-90 263 276)" text-anchor="start" fill="#222">LIN</text>
<path d="M276,261 L297,261 A16,16 0 0 1 281,277" fill="none" stroke="#3a3a3a" stroke-width="0.6"/>
<text x="277" y="266" font-size="2.6" font-weight="bold" textLength="22" lengthAdjust="spacingAndGlyphs" text-anchor="start" fill="#222">2'-6" BI-FOLD</text>
<rect x="310" y="154" width="29" height="32" rx="0" fill="none" stroke="#3a3a3a" stroke-width="0.6"/>
<path d="M314,160 Q313,157 318,157 L332,157 Q336,157 335,162 L335,178 Q336,183 331,183 L318,183 Q313,183 314,178 Z" fill="none" stroke="#3a3a3a" stroke-width="0.6"/>
<text x="322" y="162" font-size="2.6" font-weight="bold" transform="rotate(90 322 162)" text-anchor="start" fill="#222">5'-0" TUB</text>
<polyline points="310,187.5 339,187.5" fill="none" stroke="#333333" stroke-width="3" stroke-linecap="square" stroke-linejoin="miter"/>
<rect x="311.5" y="190.5" width="4" height="13" rx="0" fill="none" stroke="#3a3a3a" stroke-width="0.6"/>
<path d="M315.5,192 L329,193.5 Q333,197 329,200.5 L315.5,202 Z" fill="none" stroke="#3a3a3a" stroke-width="0.6"/>
<polyline points="310,206 339,206" fill="none" stroke="#333333" stroke-width="3" stroke-linecap="square" stroke-linejoin="miter"/>
<polyline points="363,206 387,206" fill="none" stroke="#333333" stroke-width="3" stroke-linecap="square" stroke-linejoin="miter"/>
<rect x="369" y="208" width="17" height="46" rx="0" fill="#fff" stroke="#3a3a3a" stroke-width="0.6"/>
<circle cx="377.5" cy="220.5" r="5.8" fill="none" stroke="#3a3a3a" stroke-width="0.7"/>
<circle cx="377.5" cy="240.5" r="5.8" fill="none" stroke="#3a3a3a" stroke-width="0.7"/>
<rect x="369" y="163" width="10" height="30" rx="0" fill="#fff" stroke="#3a3a3a" stroke-width="0.6"/>
<rect x="379" y="164" width="7" height="28" rx="0" fill="url(#dg)" stroke="#888" stroke-width="0.4"/>
<text x="372" y="170" font-size="2.4" font-weight="bold" transform="rotate(90 372 170)" text-anchor="start" fill="#222">BENCH</text>
<rect x="369" y="193" width="16" height="12" rx="0" fill="#fff" stroke="#3a3a3a" stroke-width="0.6"/>
<text x="374" y="196" font-size="2.4" font-weight="bold" transform="rotate(90 374 196)" text-anchor="start" fill="#222">LIN</text>
<text x="343" y="203" font-size="2.6" font-weight="bold" text-anchor="start" fill="#222">TOWEL</text>
<text x="342" y="205.5" font-size="2.6" font-weight="bold" text-anchor="start" fill="#222">HOOKS</text>
<rect x="310" y="228" width="21" height="26" rx="0" fill="#fff" stroke="#3a3a3a" stroke-width="0.6"/>
<text x="318" y="237" font-size="2.8" font-weight="bold" transform="rotate(90 318 237)" text-anchor="start" fill="#222">LIN</text>
<path d="M339,254 A19,19 0 0 1 357,236 L357,254" fill="none" stroke="#3a3a3a" stroke-width="0.6"/>
<path d="M339,187 A22,22 0 0 1 361,165" fill="none" stroke="#3a3a3a" stroke-width="0.5"/>
<path d="M312,210 A22,22 0 0 1 334,228" fill="none" stroke="#3a3a3a" stroke-width="0.5"/>
<text x="334.8" y="225.2" font-size="6.90" font-weight="bold" textLength="31.7" lengthAdjust="spacingAndGlyphs" fill="#111" stroke="#111" stroke-width="0.15">BATH-1</text>
<text x="343" y="229.3" font-size="3.1740000000000155" font-weight="bold" textLength="14" lengthAdjust="spacingAndGlyphs" text-anchor="start" fill="#222">VINYL</text>
<text x="313" y="233" font-size="2.6" font-weight="bold" text-anchor="start" fill="#222">2'-6"</text>
<rect x="389" y="156" width="21" height="22" rx="0" fill="#fff" stroke="#3a3a3a" stroke-width="0.6"/>
<path d="M391,158 L408,158 L408,176 L391,176 Z" fill="none" stroke="#3a3a3a" stroke-width="0.5"/>
<polyline points="389,183 406,183 406,188" fill="none" stroke="#333333" stroke-width="3" stroke-linecap="square" stroke-linejoin="miter"/>
<polyline points="389,223 406,223 406,218" fill="none" stroke="#333333" stroke-width="3" stroke-linecap="square" stroke-linejoin="miter"/>
<polyline points="389.0,186.0 404.0,186.0 404.0,221.0 389.0,221.0" fill="none" stroke="#3a3a3a" stroke-width="0.6"/>
<polyline points="391.0,196.0 404.0,189.0" fill="none" stroke="#3a3a3a" stroke-width="0.5"/>
<polyline points="391.0,211.0 404.0,218.0" fill="none" stroke="#3a3a3a" stroke-width="0.5"/>
<rect x="410" y="181" width="11" height="46" rx="0" fill="#fff" stroke="#3a3a3a" stroke-width="0.6"/>
<text x="416" y="193" font-size="2.6" font-weight="bold" textLength="26" lengthAdjust="spacingAndGlyphs" transform="rotate(90 416 193)" text-anchor="start" fill="#222">GAS FIREPLACE</text>
<rect x="431.5" y="160" width="143.5" height="89" rx="0" fill="none" stroke="#555" stroke-width="0.7" stroke-dasharray="5,3"/>
<line x1="388" y1="254" x2="584" y2="254" stroke="#555" stroke-width="0.7" stroke-dasharray="5,3"/>
<line x1="585.5" y1="154" x2="585.5" y2="254" stroke="#555" stroke-width="0.7" stroke-dasharray="5,3"/>
<circle cx="586.5" cy="209.5" r="2.2" fill="#333" stroke="#222" stroke-width="0.6"/>
<circle cx="585.5" cy="254.5" r="2.2" fill="#333" stroke="#222" stroke-width="0.6"/>
<text x="588" y="206" font-size="2.8" font-weight="bold" textLength="30" lengthAdjust="spacingAndGlyphs" text-anchor="start" fill="#222">LOG COLUMN</text>
<text x="573" y="262" font-size="2.8" font-weight="bold" textLength="30" lengthAdjust="spacingAndGlyphs" text-anchor="start" fill="#222">LOG COLUMN</text>
<text x="573" y="205" font-size="2.6" font-weight="bold" textLength="30" lengthAdjust="spacingAndGlyphs" transform="rotate(-90 573 205)" text-anchor="start" fill="#222">UPPER FLOOR LINE</text>
<text x="566" y="196" font-size="2.6" font-weight="bold" textLength="20" lengthAdjust="spacingAndGlyphs" transform="rotate(-90 566 196)" text-anchor="start" fill="#222">CARPET LINE</text>
<text x="518" y="247" font-size="2.8" font-weight="bold" textLength="26" lengthAdjust="spacingAndGlyphs" text-anchor="start" fill="#222">CARPET LINE</text>
<text x="482" y="256" font-size="2.8" font-weight="bold" textLength="30" lengthAdjust="spacingAndGlyphs" text-anchor="start" fill="#222">2ND FLOOR LINE</text>
<rect x="448.9" y="223.7" width="62.2" height="17.9" rx="2" fill="#fff" stroke="#555" stroke-width="0.7"/>
<line x1="453.4" y1="224" x2="453.4" y2="241.3" stroke="#3a3a3a" stroke-width="0.5"/>
<line x1="507.4" y1="224" x2="507.4" y2="241.3" stroke="#3a3a3a" stroke-width="0.5"/>
<line x1="471.5" y1="224" x2="471.5" y2="236.7" stroke="#3a3a3a" stroke-width="0.5"/>
<line x1="488.9" y1="224" x2="488.9" y2="236.7" stroke="#3a3a3a" stroke-width="0.5"/>
<rect x="453.4" y="234.2" width="54" height="2.5" rx="0" fill="#bbb" stroke="#666" stroke-width="0.4"/>
<rect x="516.1" y="177.9" width="27.2" height="43.9" rx="2" fill="#fff" stroke="#555" stroke-width="0.7"/>
<line x1="516.1" y1="181" x2="543.3" y2="181" stroke="#3a3a3a" stroke-width="0.5"/>
<line x1="516.1" y1="218.5" x2="543.3" y2="218.5" stroke="#3a3a3a" stroke-width="0.5"/>
<line x1="516.1" y1="193.4" x2="532.2" y2="193.4" stroke="#3a3a3a" stroke-width="0.5"/>
<line x1="516.1" y1="205.7" x2="532.2" y2="205.7" stroke="#3a3a3a" stroke-width="0.5"/>
<rect x="532.2" y="181" width="3.1" height="37.5" rx="0" fill="#bbb" stroke="#666" stroke-width="0.4"/>
<line x1="540.8" y1="181" x2="540.8" y2="218.5" stroke="#3a3a3a" stroke-width="0.5"/>
<rect x="489.2" y="184.3" width="20.3" height="32.6" rx="0" fill="#fff" stroke="#3a3a3a" stroke-width="0.6"/>
<rect x="515.5" y="162.2" width="22.9" height="14.4" rx="0" fill="#fff" stroke="#3a3a3a" stroke-width="0.6"/>
<ellipse cx="527" cy="169.39999999999998" rx="6.5" ry="4.6" fill="none" stroke="#444" stroke-width="0.5"/>
<ellipse cx="527" cy="169.39999999999998" rx="3.5" ry="2.6" fill="#bbb" stroke="#444" stroke-width="0.4"/>
<rect x="515.5" y="223" width="22.9" height="14.4" rx="0" fill="#fff" stroke="#3a3a3a" stroke-width="0.6"/>
<ellipse cx="527" cy="230.2" rx="6.5" ry="4.6" fill="none" stroke="#444" stroke-width="0.5"/>
<ellipse cx="527" cy="230.2" rx="3.5" ry="2.6" fill="#bbb" stroke="#444" stroke-width="0.4"/>
<text x="468.3" y="201.2" font-size="6.76" font-weight="bold" textLength="69.8" lengthAdjust="spacingAndGlyphs" fill="#111" stroke="#111" stroke-width="0.15">GREAT ROOM</text>
<text x="484.9" y="205.4" font-size="3.1740000000000155" font-weight="bold" textLength="35.10000000000002" lengthAdjust="spacingAndGlyphs" text-anchor="start" fill="#222">18'-6" x 17'-6"</text>
<text x="480.5" y="217.1" font-size="4.002000000000008" font-weight="bold" textLength="46.89999999999998" lengthAdjust="spacingAndGlyphs" text-anchor="start" fill="#222">VAULTED CEILING</text>
<text x="491.25" y="221.7" font-size="3.725999999999984" font-weight="bold" textLength="20.55000000000001" lengthAdjust="spacingAndGlyphs" text-anchor="start" fill="#222">CARPET</text>
<text x="482" y="271" font-size="2.8" font-weight="bold" textLength="24" lengthAdjust="spacingAndGlyphs" text-anchor="start" fill="#222">HARDWOOD</text>
<text x="440" y="283" font-size="2.6" font-weight="bold" textLength="36" lengthAdjust="spacingAndGlyphs" text-anchor="start" fill="#222">UPPER FLOOR LINE</text>
<rect x="628" y="185.5" width="28" height="38" rx="0" fill="#fff" stroke="#555" stroke-width="0.7"/>
<rect x="634.5" y="175.5" width="15.5" height="10" rx="0" fill="#fff" stroke="#3a3a3a" stroke-width="0.6"/>
<rect x="634.5" y="223.5" width="15.5" height="10.5" rx="0" fill="#fff" stroke="#3a3a3a" stroke-width="0.6"/>
<rect x="615.5" y="209.5" width="12.5" height="9" rx="0" fill="#fff" stroke="#3a3a3a" stroke-width="0.6"/>
<rect x="656" y="209.5" width="13" height="9" rx="0" fill="#fff" stroke="#3a3a3a" stroke-width="0.6"/>
<rect x="615.5" y="189.5" width="12.5" height="9" rx="0" fill="#fff" stroke="#3a3a3a" stroke-width="0.6"/>
<rect x="656" y="189.5" width="13" height="9" rx="0" fill="#fff" stroke="#3a3a3a" stroke-width="0.6"/>
<rect x="615.8" y="189.2" width="52.7" height="10.1" rx="0" fill="#fff" stroke="#777" stroke-width="0.6"/>
<text x="617.1" y="196.3" font-size="7.31" font-weight="bold" textLength="53.6" lengthAdjust="spacingAndGlyphs" fill="#111" stroke="#111" stroke-width="0.15">DINING RM</text>
<text x="627.2" y="201.1" font-size="3.035999999999984" font-weight="bold" textLength="34.299999999999955" lengthAdjust="spacingAndGlyphs" text-anchor="start" fill="#222">12'-6" x 15'-0"</text>
<text x="629" y="205.9" font-size="3.587999999999992" font-weight="bold" textLength="30.799999999999955" lengthAdjust="spacingAndGlyphs" text-anchor="start" fill="#222">HARDWOOD</text>
<text x="596" y="269" font-size="2.6" font-weight="bold" textLength="20" lengthAdjust="spacingAndGlyphs" text-anchor="start" fill="#222">HARDWOOD</text>
<text x="629" y="261" font-size="2.6" font-weight="bold" textLength="20" lengthAdjust="spacingAndGlyphs" text-anchor="start" fill="#222">HARDWOOD</text>
<rect x="702.5" y="190.5" width="73.5" height="23" rx="0" fill="#fff" stroke="#555" stroke-width="0.7"/>
<text x="741" y="203" font-size="2.6" font-weight="bold" textLength="12" lengthAdjust="spacingAndGlyphs" text-anchor="start" fill="#222">COOK</text>
<text x="741" y="207" font-size="2.6" font-weight="bold" textLength="18" lengthAdjust="spacingAndGlyphs" text-anchor="start" fill="#222">IN PREP</text>
<circle cx="765" cy="208.5" r="3.5" fill="none" stroke="#3a3a3a" stroke-width="0.6"/>
<text x="758.4" y="220.6" font-size="6.49" font-weight="bold" textLength="42.1" lengthAdjust="spacingAndGlyphs" fill="#111" stroke="#111" stroke-width="0.15">KITCHEN</text>
<text x="762.7" y="226.5" font-size="3.795" font-weight="bold" textLength="31.199999999999932" lengthAdjust="spacingAndGlyphs" text-anchor="start" fill="#222">HARDWOOD</text>
<polyline points="703.4,154.0 703.4,167.0 813.6,167.0 813.6,244.0 774.0,244.0 774.0,251.5" fill="none" stroke="#3a3a3a" stroke-width="0.7"/>
<line x1="712.8" y1="154" x2="712.8" y2="167" stroke="#3a3a3a" stroke-width="0.6"/>
<rect x="735.5" y="155.2" width="18.7" height="12.5" rx="0" fill="none" stroke="#555" stroke-width="0.6" stroke-dasharray="2,1"/>
<text x="740" y="165.5" font-size="2.6" font-weight="bold" text-anchor="start" fill="#222">DW</text>
<rect x="755.8" y="155.5" width="12.5" height="10.5" rx="0" fill="none" stroke="#333" stroke-width="1.1"/>
<rect x="769" y="155.5" width="11" height="10.5" rx="0" fill="none" stroke="#333" stroke-width="1.1"/>
<circle cx="762" cy="159" r="0.8" fill="#333" stroke="#333" stroke-width="0.4"/>
<circle cx="774.5" cy="159" r="0.8" fill="#333" stroke="#333" stroke-width="0.4"/>
<rect x="781.6" y="155.2" width="14.8" height="12.5" rx="0" fill="none" stroke="#555" stroke-width="0.6" stroke-dasharray="2,1"/>
<text x="783" y="160" font-size="2.2" font-weight="bold" text-anchor="start" fill="#222">TRSH</text>
<text x="783" y="164" font-size="2.2" font-weight="bold" text-anchor="start" fill="#222">COMP</text>
<text x="683" y="167" font-size="2.8" font-weight="bold" textLength="12" lengthAdjust="spacingAndGlyphs" text-anchor="start" fill="#222">OPEN</text>
<text x="681.5" y="171" font-size="2.8" font-weight="bold" textLength="17" lengthAdjust="spacingAndGlyphs" text-anchor="start" fill="#222">SHELVES</text>
<line x1="703" y1="163" x2="708" y2="159" stroke="#3a3a3a" stroke-width="0.4"/>
<line x1="814" y1="156" x2="814" y2="170" stroke="#555" stroke-width="0.6" stroke-dasharray="3,2"/>
<rect x="818.3" y="152" width="14" height="20.3" rx="0" fill="none" stroke="#3a3a3a" stroke-width="0.6"/>
<line x1="823.75" y1="152" x2="823.75" y2="172" stroke="#3a3a3a" stroke-width="0.5"/>
<rect x="817.5" y="172.3" width="14.8" height="10.2" rx="0" fill="none" stroke="#3a3a3a" stroke-width="0.6"/>
<polyline points="813.6,184.5 833,184.5" fill="none" stroke="#333333" stroke-width="3" stroke-linecap="square" stroke-linejoin="miter"/>
<polyline points="813.6,221.5 833,221.5" fill="none" stroke="#333333" stroke-width="3" stroke-linecap="square" stroke-linejoin="miter"/>
<rect x="816" y="187" width="16" height="10" rx="0" fill="#ddd" stroke="#333" stroke-width="0.6"/>
<rect x="816" y="198" width="16" height="10" rx="0" fill="#ddd" stroke="#333" stroke-width="0.6"/>
<rect x="816" y="209" width="16" height="10" rx="0" fill="#ddd" stroke="#333" stroke-width="0.6"/>
<text x="810" y="198" font-size="2.6" font-weight="bold" transform="rotate(90 810 198)" text-anchor="start" fill="#222">RANGE</text>
<rect x="817.5" y="224" width="14.8" height="13" rx="0" fill="none" stroke="#3a3a3a" stroke-width="0.6"/>
<line x1="820.5" y1="185" x2="820.5" y2="238" stroke="#555" stroke-width="0.6" stroke-dasharray="4,2"/>
<polyline points="774.0,251.5 832.0,251.5" fill="4,2" stroke="#555" stroke-width="0.6"/>
<polygon points="701.0,259.6 719.0,259.6 719.0,275.5" fill="#fff" stroke="#444" stroke-width="0.6"/>
<line x1="706.4" y1="259.6" x2="719" y2="263.92" stroke="#666" stroke-width="0.4"/>
<line x1="710.9" y1="259.6" x2="719" y2="267.52000000000004" stroke="#666" stroke-width="0.4"/>
<line x1="715.4" y1="259.6" x2="719" y2="271.12" stroke="#666" stroke-width="0.4"/>
<text x="679.2" y="263" font-size="2.8" font-weight="bold" textLength="17" lengthAdjust="spacingAndGlyphs" text-anchor="start" fill="#222">PHONE</text>
<text x="679.2" y="266.5" font-size="2.8" font-weight="bold" textLength="20" lengthAdjust="spacingAndGlyphs" text-anchor="start" fill="#222">CENTER</text>
<polyline points="701.5,258 701.5,242 712,242" fill="none" stroke="#333333" stroke-width="4" stroke-linecap="square" stroke-linejoin="miter"/>
<polyline points="732,242 743.5,242 743.5,258" fill="none" stroke="#333333" stroke-width="4" stroke-linecap="square" stroke-linejoin="miter"/>
<path d="M712,242 L712,225 A17,17 0 0 1 729,242" fill="none" stroke="#3a3a3a" stroke-width="0.6"/>
<text x="710" y="249.5" font-size="2.6" font-weight="bold" textLength="18" lengthAdjust="spacingAndGlyphs" text-anchor="start" fill="#222">PANTRY</text>
<rect x="745" y="243" width="28" height="13.5" rx="0" fill="url(#dg)" stroke="#444" stroke-width="0.6"/>
<text x="750" y="251.5" font-size="2.6" font-weight="bold" textLength="16" lengthAdjust="spacingAndGlyphs" text-anchor="start" fill="#222">24" REF</text>
<text x="709" y="232" font-size="2.6" font-weight="bold" transform="rotate(90 709 232)" text-anchor="start" fill="#222">2'-6"</text>
<polyline points="699.5,258 835.5,258" fill="none" stroke="#333333" stroke-width="4" stroke-linecap="square" stroke-linejoin="miter"/>
<polyline points="721,258 721,285" fill="none" stroke="#333333" stroke-width="4" stroke-linecap="square" stroke-linejoin="miter"/>
<polyline points="721,304 721,311" fill="none" stroke="#333333" stroke-width="4" stroke-linecap="square" stroke-linejoin="miter"/>
<polyline points="721,328 721,349.5" fill="none" stroke="#333333" stroke-width="4" stroke-linecap="square" stroke-linejoin="miter"/>
<polyline points="721,306.4 774.6,306.4 774.6,349" fill="none" stroke="#333333" stroke-width="4" stroke-linecap="square" stroke-linejoin="miter"/>
<polyline points="716,349 776,349" fill="none" stroke="#333333" stroke-width="4" stroke-linecap="square" stroke-linejoin="miter"/>
<rect x="722.8" y="260.2" width="32" height="12.4" rx="0" fill="#fff" stroke="#3a3a3a" stroke-width="0.6"/>
<text x="727" y="265.5" font-size="2.8" font-weight="bold" textLength="21" lengthAdjust="spacingAndGlyphs" text-anchor="start" fill="#222">VACUUM/</text>
<text x="727" y="270" font-size="2.8" font-weight="bold" textLength="24" lengthAdjust="spacingAndGlyphs" text-anchor="start" fill="#222">CLEANING</text>
<rect x="756.7" y="260.9" width="20.2" height="14.9" rx="0" fill="#fff" stroke="#3a3a3a" stroke-width="0.6"/>
<rect x="779.5" y="260.9" width="20.8" height="14.9" rx="0" fill="#fff" stroke="#3a3a3a" stroke-width="0.6"/>
<line x1="758" y1="265" x2="833" y2="265" stroke="#555" stroke-width="0.5" stroke-dasharray="4,2"/>
<line x1="814.5" y1="258" x2="814.5" y2="321" stroke="#444" stroke-width="0.6"/>
<rect x="778.8" y="312.3" width="35.2" height="6.5" rx="0" fill="url(#hv)" stroke="#888" stroke-width="0.4"/>
<rect x="817.3" y="283" width="14.3" height="12.4" rx="0" fill="#fff" stroke="#3a3a3a" stroke-width="0.6"/>
<rect x="819.5" y="285" width="10" height="8.4" rx="0" fill="none" stroke="#3a3a3a" stroke-width="0.5"/>
<text x="753.4" y="292.8" font-size="7.18" font-weight="bold" textLength="32.6" lengthAdjust="spacingAndGlyphs" fill="#111" stroke="#111" stroke-width="0.15">UTILITY</text>
<text x="761" y="297" font-size="2.6" font-weight="bold" textLength="14" lengthAdjust="spacingAndGlyphs" text-anchor="start" fill="#222">VINYL</text>
<text x="786" y="291" font-size="2.6" font-weight="bold" textLength="14" lengthAdjust="spacingAndGlyphs" text-anchor="start" fill="#222">+SINK</text>
<text x="784" y="303" font-size="2.6" font-weight="bold" textLength="18" lengthAdjust="spacingAndGlyphs" text-anchor="start" fill="#222">RTN BIN</text>
<text x="725" y="301" font-size="2.6" font-weight="bold" textLength="22" lengthAdjust="spacingAndGlyphs" text-anchor="start" fill="#222">2'-6" BI-FOLD</text>
<path d="M723,286 A18,18 0 0 1 741,304" fill="none" stroke="#3a3a3a" stroke-width="0.5"/>
<rect x="815" y="304" width="14" height="14" rx="0" fill="none" stroke="#555" stroke-width="0.5" stroke-dasharray="3,2"/>
<path d="M815,275 L823,270 M815,295 L823,305" fill="none" stroke="#3a3a3a" stroke-width="0.5"/>
<rect x="756.7" y="308.4" width="15" height="19.6" rx="0" fill="#fff" stroke="#3a3a3a" stroke-width="0.6"/>
<circle cx="763.8" cy="318.2" r="5.9" fill="none" stroke="#3a3a3a" stroke-width="0.6"/>
<path d="M749,333.5 L760,332 L772,332 L772,343.6 L760,343.6 L749,342 Z" fill="#fff" stroke="#3a3a3a" stroke-width="0.6"/>
<line x1="760" y1="332" x2="760" y2="343.6" stroke="#3a3a3a" stroke-width="0.5"/>
<text x="728" y="334.5" font-size="5.52" font-weight="bold" textLength="21.5" lengthAdjust="spacingAndGlyphs" fill="#111" stroke="#111" stroke-width="0.15">PWDR</text>
<text x="731" y="338.5" font-size="2.4" font-weight="bold" textLength="12" lengthAdjust="spacingAndGlyphs" text-anchor="start" fill="#222">VINYL</text>
<text x="730" y="314" font-size="2.4" font-weight="bold" text-anchor="start" fill="#222">2'-6"</text>
<path d="M723,328 A18,18 0 0 0 741,311" fill="none" stroke="#3a3a3a" stroke-width="0.5"/>
<rect x="776.9" y="330" width="8" height="17" rx="0" fill="#fff" stroke="#3a3a3a" stroke-width="0.6"/>
<text x="780" y="332" font-size="2.4" font-weight="bold" transform="rotate(90 780 332)" text-anchor="start" fill="#222">4'-0" CAB</text>
<rect x="833.5" y="277" width="5.2" height="25" rx="0" fill="#fff" stroke="#3a3a3a" stroke-width="0.6"/>
<text x="841" y="277.5" font-size="3" font-weight="bold" textLength="26" lengthAdjust="spacingAndGlyphs" transform="rotate(90 841 277.5)" text-anchor="start" fill="#222">3'-0" x 5'-0" CSMT</text>
<polyline points="308.5,283.5 382,283.5" fill="none" stroke="#333333" stroke-width="4" stroke-linecap="square" stroke-linejoin="miter"/>
<polyline points="405,283.5 418,283.5" fill="none" stroke="#333333" stroke-width="4" stroke-linecap="square" stroke-linejoin="miter"/>
<path d="M383,282 L383,268.3 A22.5,14.7 0 0 1 405.5,282" fill="none" stroke="#3a3a3a" stroke-width="0.6"/>
<line x1="383" y1="282" x2="383" y2="268.3" stroke="#444" stroke-width="1.2"/>
<text x="385" y="279" font-size="2.4" font-weight="bold" transform="rotate(90 385 279)" text-anchor="start" fill="#222">2'-6"</text>
<polyline points="321,283.5 321,304 309,314" fill="none" stroke="#333333" stroke-width="4" stroke-linecap="square" stroke-linejoin="miter"/>
<polyline points="308.8,336 308.8,361" fill="none" stroke="#333333" stroke-width="4" stroke-linecap="square" stroke-linejoin="miter"/>
<line x1="308.8" y1="314" x2="308.8" y2="336" stroke="#3a3a3a" stroke-width="0.6"/>
<line x1="306.5" y1="316" x2="306.5" y2="336" stroke="#3a3a3a" stroke-width="0.6"/>
<rect x="324.3" y="285.5" width="44.7" height="17.3" rx="0" fill="none" stroke="#3a3a3a" stroke-width="0.6"/>
<line x1="324.3" y1="285.5" x2="369" y2="302.8" stroke="#3a3a3a" stroke-width="0.5"/>
<line x1="369" y1="285.5" x2="324.3" y2="302.8" stroke="#3a3a3a" stroke-width="0.5"/>
<polyline points="371.3,283.5 371.3,303 417,303 417,283.5" fill="none" stroke="#333333" stroke-width="3.4" stroke-linecap="square" stroke-linejoin="miter"/>
<rect x="376" y="287" width="38" height="13" rx="0" fill="#fff" stroke="#3a3a3a" stroke-width="0.6"/>
<text x="378.5" y="295" font-size="2.8" font-weight="bold" textLength="32" lengthAdjust="spacingAndGlyphs" text-anchor="start" fill="#222">COAT CLOSET</text>
<polyline points="396.3,303 396.3,328.5 378,328.5" fill="none" stroke="#333333" stroke-width="3.2" stroke-linecap="square" stroke-linejoin="miter"/>
<polyline points="375.7,329 375.7,361" fill="none" stroke="#333333" stroke-width="3.4" stroke-linecap="square" stroke-linejoin="miter"/>
<rect x="378" y="305" width="17" height="22" rx="0" fill="#fff" stroke="#3a3a3a" stroke-width="0.6"/>
<text x="385" y="308" font-size="2.4" font-weight="bold" transform="rotate(90 385 308)" text-anchor="start" fill="#222">LINEN</text>
<text x="389" y="308" font-size="2.4" font-weight="bold" transform="rotate(90 389 308)" text-anchor="start" fill="#222">SHELF</text>
<polyline points="307,360.5 458.5,360.5" fill="none" stroke="#333333" stroke-width="4" stroke-linecap="square" stroke-linejoin="miter"/>
<ellipse cx="344.5" cy="326" rx="23" ry="17.5" fill="none" stroke="#555" stroke-width="0.6" stroke-dasharray="4,2"/>
<rect x="328" y="321" width="27" height="10" rx="0" fill="none" stroke="#3a3a3a" stroke-width="0.6"/>
<rect x="355" y="322" width="7" height="4" rx="0" fill="none" stroke="#3a3a3a" stroke-width="0.5"/>
<rect x="355" y="327" width="7" height="4" rx="0" fill="none" stroke="#3a3a3a" stroke-width="0.5"/>
<line x1="334" y1="321" x2="334" y2="331" stroke="#3a3a3a" stroke-width="0.5"/>
<line x1="350" y1="321" x2="350" y2="331" stroke="#3a3a3a" stroke-width="0.5"/>
<ellipse cx="329.5" cy="353" rx="9" ry="5" fill="none" stroke="#444" stroke-width="0.6"/>
<line x1="329.5" y1="348" x2="329.5" y2="356" stroke="#3a3a3a" stroke-width="0.4"/>
<path d="M355,358 L355,349 Q357,343 362.5,343 Q368,343 370,349 L370,358 Z" fill="none" stroke="#3a3a3a" stroke-width="0.6"/>
<rect x="354" y="358" width="17" height="2.5" rx="0" fill="none" stroke="#3a3a3a" stroke-width="0.5"/>
<rect x="345" y="343" width="3" height="14" rx="0" fill="#ccc" stroke="#444" stroke-width="0.6"/>
<line x1="312" y1="303" x2="312" y2="358" stroke="#555" stroke-width="0.5" stroke-dasharray="4,2"/>
<text x="318" y="341" font-size="2.6" font-weight="bold" text-anchor="start" fill="#222">HALF</text>
<text x="318" y="345" font-size="2.6" font-weight="bold" text-anchor="start" fill="#222">WALL</text>
<line x1="328" y1="344" x2="340" y2="344" stroke="#3a3a3a" stroke-width="0.4"/>
<text x="334" y="312.3" font-size="7.87" font-weight="bold" textLength="37.0" lengthAdjust="spacingAndGlyphs" fill="#111" stroke="#111" stroke-width="0.15">BATH-2</text>
<text x="346" y="316.3" font-size="3.1740000000000155" font-weight="bold" textLength="13" lengthAdjust="spacingAndGlyphs" text-anchor="start" fill="#222">VINYL</text>
<text x="305" y="337" font-size="2.4" font-weight="bold" transform="rotate(-90 305 337)" text-anchor="start" fill="#222">3'-0" DH</text>
<line x1="418.3" y1="285.5" x2="455" y2="285.5" stroke="#444" stroke-width="0.6"/>
<line x1="418.3" y1="291.65" x2="455" y2="291.65" stroke="#444" stroke-width="0.6"/>
<line x1="418.3" y1="297.8" x2="455" y2="297.8" stroke="#444" stroke-width="0.6"/>
<line x1="418.3" y1="303.95" x2="455" y2="303.95" stroke="#444" stroke-width="0.6"/>
<line x1="418.3" y1="310.1" x2="455" y2="310.1" stroke="#444" stroke-width="0.6"/>
<line x1="418.3" y1="316.25" x2="455" y2="316.25" stroke="#444" stroke-width="0.6"/>
<line x1="418.3" y1="322.4" x2="455" y2="322.4" stroke="#444" stroke-width="0.6"/>
<line x1="418.3" y1="328.55" x2="455" y2="328.55" stroke="#444" stroke-width="0.6"/>
<line x1="418.3" y1="334.7" x2="455" y2="334.7" stroke="#444" stroke-width="0.6"/>
<line x1="415.5" y1="303" x2="415.5" y2="337" stroke="#3a3a3a" stroke-width="0.6"/>
<line x1="418.5" y1="303" x2="418.5" y2="337" stroke="#3a3a3a" stroke-width="0.6"/>
<line x1="398" y1="309" x2="415" y2="309" stroke="#555" stroke-width="0.5" stroke-dasharray="3,2"/>
<line x1="398" y1="315" x2="415" y2="315" stroke="#555" stroke-width="0.5" stroke-dasharray="3,2"/>
<line x1="398" y1="321" x2="415" y2="321" stroke="#555" stroke-width="0.5" stroke-dasharray="3,2"/>
<line x1="398" y1="327" x2="415" y2="327" stroke="#555" stroke-width="0.5" stroke-dasharray="3,2"/>
<line x1="454.6" y1="284" x2="454.6" y2="345" stroke="#3a3a3a" stroke-width="0.6"/>
<line x1="457" y1="284" x2="457" y2="345" stroke="#3a3a3a" stroke-width="0.6"/>
<polyline points="456.7,344 456.7,361.5" fill="none" stroke="#333333" stroke-width="4" stroke-linecap="square" stroke-linejoin="miter"/>
<polyline points="406.9,327.7 406.9,348.0 436.0,348.0 436.0,310.0" fill="none" stroke="#3a3a3a" stroke-width="0.6"/>
<polyline points="398.0,330.0 420.0,320.0" fill="none" stroke="#3a3a3a" stroke-width="0.5"/>
<text x="401" y="354" font-size="2.8" font-weight="bold" textLength="35" lengthAdjust="spacingAndGlyphs" text-anchor="start" fill="#222">TO UP STAIRS</text>
<line x1="420" y1="283" x2="540" y2="283" stroke="#555" stroke-width="0.6" stroke-dasharray="6,3"/>
<line x1="465.2" y1="289" x2="465.2" y2="340.5" stroke="#666" stroke-width="0.6"/>
<line x1="475.2" y1="289" x2="475.2" y2="340.5" stroke="#666" stroke-width="0.6"/>
<line x1="485.3" y1="289" x2="485.3" y2="340.5" stroke="#666" stroke-width="0.6"/>
<line x1="495.3" y1="289" x2="495.3" y2="340.5" stroke="#666" stroke-width="0.6"/>
<line x1="505.4" y1="289" x2="505.4" y2="340.5" stroke="#666" stroke-width="0.6"/>
<line x1="515.4" y1="289" x2="515.4" y2="340.5" stroke="#666" stroke-width="0.6"/>
<line x1="525.4" y1="289" x2="525.4" y2="340.5" stroke="#666" stroke-width="0.6"/>
<line x1="535.5" y1="289" x2="535.5" y2="340.5" stroke="#666" stroke-width="0.6"/>
<line x1="465.2" y1="289.0" x2="535.5" y2="289.0" stroke="#666" stroke-width="0.6"/>
<line x1="465.2" y1="295.4" x2="535.5" y2="295.4" stroke="#666" stroke-width="0.6"/>
<line x1="465.2" y1="301.9" x2="535.5" y2="301.9" stroke="#666" stroke-width="0.6"/>
<line x1="465.2" y1="308.3" x2="535.5" y2="308.3" stroke="#666" stroke-width="0.6"/>
<line x1="465.2" y1="314.8" x2="535.5" y2="314.8" stroke="#666" stroke-width="0.6"/>
<line x1="465.2" y1="321.2" x2="535.5" y2="321.2" stroke="#666" stroke-width="0.6"/>
<line x1="465.2" y1="327.6" x2="535.5" y2="327.6" stroke="#666" stroke-width="0.6"/>
<line x1="465.2" y1="334.1" x2="535.5" y2="334.1" stroke="#666" stroke-width="0.6"/>
<line x1="465.2" y1="340.5" x2="535.5" y2="340.5" stroke="#666" stroke-width="0.6"/>
<rect x="521.5" y="309.8" width="13.2" height="26.2" rx="0" fill="#fff" stroke="#3a3a3a" stroke-width="0.6"/>
<text x="527" y="318" font-size="2.4" font-weight="bold" transform="rotate(90 527 318)" text-anchor="start" fill="#222">BENCH</text>
<text x="484.4" y="315.5" font-size="6.49" font-weight="bold" textLength="33.3" lengthAdjust="spacingAndGlyphs" fill="#111" stroke="#111" stroke-width="0.15">ENTRY</text>
<text x="492.3" y="319.6" font-size="3.1740000000000155" font-weight="bold" textLength="15.199999999999989" lengthAdjust="spacingAndGlyphs" text-anchor="start" fill="#222">SLATE</text>
<line x1="460" y1="285" x2="460" y2="345" stroke="#3a3a3a" stroke-width="0.6"/>
<line x1="462.5" y1="285" x2="462.5" y2="345" stroke="#3a3a3a" stroke-width="0.6"/>
<line x1="458" y1="345" x2="541" y2="345" stroke="#3a3a3a" stroke-width="0.6"/>
<line x1="458" y1="347.5" x2="541" y2="347.5" stroke="#3a3a3a" stroke-width="0.6"/>
<polyline points="538,345 538,362" fill="none" stroke="#333333" stroke-width="5" stroke-linecap="square" stroke-linejoin="miter"/>
<path d="M485,345 L485,323 A31,22 0 0 1 516.2,345" fill="none" stroke="#3a3a3a" stroke-width="0.6"/>
<line x1="485" y1="345" x2="485" y2="323" stroke="#444" stroke-width="1.2"/>
<text x="468" y="351" font-size="2.4" font-weight="bold" textLength="56" lengthAdjust="spacingAndGlyphs" text-anchor="start" fill="#222">3-0x7-0 ENTRY DOOR W/</text>
<text x="468" y="354.5" font-size="2.4" font-weight="bold" textLength="56" lengthAdjust="spacingAndGlyphs" text-anchor="start" fill="#222">6-0   6-7080   RW/SIDELITES</text>
<polyline points="542.5,283 542.5,362" fill="none" stroke="#333333" stroke-width="4" stroke-linecap="square" stroke-linejoin="miter"/>
<polyline points="541,361 582,361" fill="none" stroke="#333333" stroke-width="4" stroke-linecap="square" stroke-linejoin="miter"/>
<line x1="582" y1="359.5" x2="630" y2="359.5" stroke="#3a3a3a" stroke-width="0.6"/>
<line x1="582" y1="362.5" x2="630" y2="362.5" stroke="#3a3a3a" stroke-width="0.6"/>
<polyline points="630,361 660,361" fill="none" stroke="#333333" stroke-width="4" stroke-linecap="square" stroke-linejoin="miter"/>
<polyline points="541,283.5 598,283.5" fill="none" stroke="#333333" stroke-width="4" stroke-linecap="square" stroke-linejoin="miter"/>
<line x1="598" y1="282" x2="634" y2="282" stroke="#3a3a3a" stroke-width="0.6"/>
<line x1="598" y1="285" x2="634" y2="285" stroke="#3a3a3a" stroke-width="0.6"/>
<polyline points="634,283.5 682,283.5" fill="none" stroke="#333333" stroke-width="4" stroke-linecap="square" stroke-linejoin="miter"/>
<polyline points="658.5,283.5 658.5,418" fill="none" stroke="#333333" stroke-width="4" stroke-linecap="square" stroke-linejoin="miter"/>
<polyline points="681,306 681,391" fill="none" stroke="#333333" stroke-width="4" stroke-linecap="square" stroke-linejoin="miter"/>
<text x="541" y="280" font-size="2.6" font-weight="bold" textLength="60" lengthAdjust="spacingAndGlyphs" text-anchor="start" fill="#222">4-0x6-8 SLIDING BARN DOOR</text>
<rect x="550.2" y="285.9" width="42.5" height="19.7" rx="0" fill="none" stroke="#3a3a3a" stroke-width="0.6"/>
<rect x="564.9" y="286.6" width="14.6" height="12.4" rx="0" fill="none" stroke="#3a3a3a" stroke-width="0.6"/>
<rect x="564.2" y="300.5" width="14.6" height="2.2" rx="0" fill="#333" stroke="#222" stroke-width="0.4"/>
<circle cx="584" cy="301.5" r="0.9" fill="#222" stroke="#222" stroke-width="0.4"/>
<text x="552" y="290.5" font-size="2.6" font-weight="bold" text-anchor="start" fill="#222">DSK</text>
<path d="M564,308 Q563,306.4 566,306.4 L579,306.4 Q582.5,306.4 582,309 L581,315 Q580,316.6 577,316.6 L567,316.6 Q564,316.6 564,314 Z" fill="none" stroke="#3a3a3a" stroke-width="0.6"/>
<line x1="562.7" y1="309" x2="562.7" y2="314" stroke="#3a3a3a" stroke-width="0.5"/>
<line x1="583" y1="309" x2="583" y2="314" stroke="#3a3a3a" stroke-width="0.5"/>
<path d="M549.5,331 Q550,324 560,323.2 Q567,324 572.2,335 L565,338.6 Q552,339 549.5,331 Z" fill="none" stroke="#444" stroke-width="0.6"/>
<path d="M551.5,331 Q552,326 560,325.5 Q566,326 569.5,334.5" fill="none" stroke="#3a3a3a" stroke-width="0.4"/>
<rect x="551.7" y="342.2" width="22.7" height="13.9" rx="0" fill="none" stroke="#3a3a3a" stroke-width="0.6"/>
<ellipse cx="563" cy="349.2" rx="6.5" ry="4.6" fill="none" stroke="#444" stroke-width="0.5"/>
<circle cx="563" cy="349.2" r="1.6" fill="none" stroke="#3a3a3a" stroke-width="0.5"/>
<rect x="577.3" y="337.8" width="60.1" height="18.3" rx="2" fill="#fff" stroke="#555" stroke-width="0.7"/>
<line x1="580" y1="340.5" x2="580" y2="354" stroke="#3a3a3a" stroke-width="0.5"/>
<line x1="635" y1="340.5" x2="635" y2="354" stroke="#3a3a3a" stroke-width="0.5"/>
<line x1="597" y1="340" x2="597" y2="356" stroke="#3a3a3a" stroke-width="0.5"/>
<line x1="616.5" y1="340" x2="616.5" y2="356" stroke="#3a3a3a" stroke-width="0.5"/>
<rect x="580" y="348.8" width="55" height="2.9" rx="0" fill="#bbb" stroke="#666" stroke-width="0.4"/>
<rect x="637.4" y="286.6" width="18.3" height="26.4" rx="0" fill="none" stroke="#3a3a3a" stroke-width="0.6"/>
<path d="M640,296 L645,290 L655,300 L651,307 Z" fill="none" stroke="#3a3a3a" stroke-width="0.6"/>
<path d="M645,290 L648,288 L656,296 L655,300" fill="none" stroke="#3a3a3a" stroke-width="0.5"/>
<text x="595.2" y="323.8" font-size="6.49" font-weight="bold" textLength="20.5" lengthAdjust="spacingAndGlyphs" fill="#111" stroke="#111" stroke-width="0.15">DEN</text>
<text x="591.7" y="328.7" font-size="3.5879999999999526" font-weight="bold" textLength="32.799999999999955" lengthAdjust="spacingAndGlyphs" text-anchor="start" fill="#222">12'-6" x 11'-0"</text>
<text x="595.8" y="333.7" font-size="4.001999999999969" font-weight="bold" textLength="21.100000000000023" lengthAdjust="spacingAndGlyphs" text-anchor="start" fill="#222">CARPET</text>
<text x="581.4" y="367.5" font-size="2.8" font-weight="bold" textLength="46" lengthAdjust="spacingAndGlyphs" text-anchor="start" fill="#222">(3) 2/6x4/0 CSMT</text>
<rect x="660" y="287" width="19" height="26" rx="0" fill="#fff" stroke="#3a3a3a" stroke-width="0.6"/>
<text x="667" y="292" font-size="2.4" font-weight="bold" transform="rotate(90 667 292)" text-anchor="start" fill="#222">LINEN</text>
<text x="672" y="292" font-size="2.4" font-weight="bold" transform="rotate(90 672 292)" text-anchor="start" fill="#222">SHELF</text>
<rect x="660" y="315" width="19.5" height="31" rx="0" fill="url(#hh)" stroke="#999" stroke-width="0.4"/>
<rect x="660" y="351" width="19.5" height="40" rx="0" fill="url(#hh)" stroke="#999" stroke-width="0.4"/>
<line x1="669.5" y1="315" x2="669.5" y2="346" stroke="#3a3a3a" stroke-width="0.5"/>
<line x1="669.5" y1="351" x2="669.5" y2="391" stroke="#3a3a3a" stroke-width="0.5"/>
<polyline points="658.5,348.5 716,348.5" fill="none" stroke="#333333" stroke-width="4" stroke-linecap="square" stroke-linejoin="miter"/>
<text x="688" y="293" font-size="2.4" font-weight="bold" transform="rotate(90 688 293)" text-anchor="start" fill="#222">4'-0" BI-FOLD</text>
<text x="654" y="330" font-size="2.4" font-weight="bold" transform="rotate(90 654 330)" text-anchor="start" fill="#222">2'-6" B-FOLD</text>
<path d="M716,349 L716,331 A18,18 0 0 0 698,349" fill="none" stroke="#3a3a3a" stroke-width="0.6"/>
<polyline points="192.5,311 192.5,415" fill="none" stroke="#333333" stroke-width="4.6" stroke-linecap="square" stroke-linejoin="miter"/>
<polyline points="186.5,415.3 220.6,415.3" fill="none" stroke="#333333" stroke-width="4.8" stroke-linecap="square" stroke-linejoin="miter"/>
<line x1="220.6" y1="412.6" x2="291" y2="412.6" stroke="#3a3a3a" stroke-width="0.8"/>
<line x1="220.6" y1="416.8" x2="291" y2="416.8" stroke="#3a3a3a" stroke-width="0.8"/>
<polyline points="291,415.3 324,415.3" fill="none" stroke="#333333" stroke-width="4.8" stroke-linecap="square" stroke-linejoin="miter"/>
<polyline points="318,360 318,415" fill="none" stroke="#333333" stroke-width="4" stroke-linecap="square" stroke-linejoin="miter"/>
<line x1="192" y1="411.4" x2="316" y2="411.4" stroke="#3a3a3a" stroke-width="0.6"/>
<line x1="243.3" y1="412.6" x2="243.3" y2="416.8" stroke="#444" stroke-width="1"/>
<line x1="267.5" y1="412.6" x2="267.5" y2="416.8" stroke="#444" stroke-width="1"/>
<rect x="195" y="349" width="69" height="42" rx="2" fill="#fff" stroke="#555" stroke-width="0.7"/>
<rect x="197" y="351" width="14" height="18" rx="0" fill="none" stroke="#3a3a3a" stroke-width="0.6"/>
<rect x="197" y="371" width="14" height="18" rx="0" fill="none" stroke="#3a3a3a" stroke-width="0.6"/>
<line x1="211" y1="349" x2="211" y2="391" stroke="#3a3a3a" stroke-width="0.6"/>
<rect x="195" y="349" width="3" height="42" rx="0" fill="#ccc" stroke="#888" stroke-width="0.3"/>
<path d="M211,370 C216,376 220,384 223,391 M214,370 C219,378 223,385 225,391" fill="none" stroke="#3a3a3a" stroke-width="0.5"/>
<rect x="197" y="332.5" width="16" height="15" rx="0" fill="none" stroke="#3a3a3a" stroke-width="0.6"/>
<ellipse cx="205" cy="340.0" rx="4.5" ry="3.5" fill="none" stroke="#444" stroke-width="0.5"/>
<circle cx="205" cy="340.0" r="1.2" fill="none" stroke="#3a3a3a" stroke-width="0.4"/>
<rect x="197" y="392.5" width="16" height="15" rx="0" fill="none" stroke="#3a3a3a" stroke-width="0.6"/>
<ellipse cx="205" cy="400.0" rx="4.5" ry="3.5" fill="none" stroke="#444" stroke-width="0.5"/>
<circle cx="205" cy="400.0" r="1.2" fill="none" stroke="#3a3a3a" stroke-width="0.4"/>
<text x="233.6" y="361.8" font-size="7.04" font-weight="bold" textLength="62.1" lengthAdjust="spacingAndGlyphs" fill="#111" stroke="#111" stroke-width="0.15">BEDROOM-2</text>
<text x="243.4" y="365.7" font-size="3.1740000000000155" font-weight="bold" textLength="36.29999999999998" lengthAdjust="spacingAndGlyphs" text-anchor="start" fill="#222">13'-0" x 13'-0"</text>
<text x="250" y="370.4" font-size="3.725999999999984" font-weight="bold" textLength="20.69999999999999" lengthAdjust="spacingAndGlyphs" text-anchor="start" fill="#222">CARPET</text>
<text x="240" y="422" font-size="2.6" font-weight="bold" textLength="40" lengthAdjust="spacingAndGlyphs" text-anchor="start" fill="#222">(3) 3'-0" x 4'-0" CSMT</text>
<line x1="300" y1="417" x2="296" y2="428" stroke="#3a3a3a" stroke-width="0.4"/>
<text x="285" y="431" font-size="2.6" font-weight="bold" textLength="40" lengthAdjust="spacingAndGlyphs" text-anchor="start" fill="#222">CULTURED STONE</text>
<text x="286" y="287" font-size="2.4" font-weight="bold" transform="rotate(90 286 287)" text-anchor="start" fill="#222">2'-8"</text>
<path d="M281,305 A27,20 0 0 0 308.4,286.4" fill="none" stroke="#3a3a3a" stroke-width="0.5"/>
<line x1="281" y1="285" x2="281" y2="305" stroke="#3a3a3a" stroke-width="0.6"/>
<line x1="270" y1="302" x2="310" y2="302" stroke="#555" stroke-width="0.6" stroke-dasharray="5,3"/>
<g transform="translate(346 390.4) rotate(23.4)">
<rect x="-9.85" y="-7.3" width="19.7" height="14.6" rx="0" fill="#fff" stroke="#444" stroke-width="0.7"/>
<line x1="-7.6499999999999995" y1="-7.3" x2="-7.6499999999999995" y2="7.3" stroke="#444" stroke-width="0.5"/>
<line x1="-9.85" y1="-5.3" x2="9.85" y2="-5.3" stroke="#444" stroke-width="0.5"/>
</g>
<g transform="translate(376.4 376.4) rotate(-17)">
<rect x="-9.2" y="-7.4" width="18.4" height="14.8" rx="0" fill="#fff" stroke="#444" stroke-width="0.7"/>
<line x1="-6.999999999999999" y1="-7.4" x2="-6.999999999999999" y2="7.4" stroke="#444" stroke-width="0.5"/>
<line x1="-9.2" y1="-5.4" x2="9.2" y2="-5.4" stroke="#444" stroke-width="0.5"/>
</g>
<g transform="translate(596.5 381) rotate(17)">
<rect x="-9.25" y="-7.75" width="18.5" height="15.5" rx="0" fill="#fff" stroke="#444" stroke-width="0.7"/>
<line x1="-7.05" y1="-7.75" x2="-7.05" y2="7.75" stroke="#444" stroke-width="0.5"/>
<line x1="-9.25" y1="-5.75" x2="9.25" y2="-5.75" stroke="#444" stroke-width="0.5"/>
</g>
<g transform="translate(627.2 390.9) rotate(-20.6)">
<rect x="-9.4" y="-7.7" width="18.8" height="15.4" rx="0" fill="#fff" stroke="#444" stroke-width="0.7"/>
<line x1="7.2" y1="-7.7" x2="7.2" y2="7.7" stroke="#444" stroke-width="0.5"/>
<line x1="-9.4" y1="-5.7" x2="9.4" y2="-5.7" stroke="#444" stroke-width="0.5"/>
</g>
<text x="349.5" y="368" font-size="3" font-weight="bold" textLength="24" lengthAdjust="spacingAndGlyphs" text-anchor="start" fill="#222">2/4 x 3/6</text>
<text x="349.5" y="371.5" font-size="3" font-weight="bold" textLength="13" lengthAdjust="spacingAndGlyphs" text-anchor="start" fill="#222">CSMT</text>
<rect x="351" y="358.6" width="22.5" height="3.8" rx="0" fill="#fff" stroke="#3a3a3a" stroke-width="0.6"/>
<line x1="441.9" y1="362" x2="441.9" y2="405" stroke="#444" stroke-width="0.7" stroke-dasharray="3,2"/>
<line x1="450.5" y1="362" x2="450.5" y2="405" stroke="#444" stroke-width="0.7" stroke-dasharray="3,2"/>
<line x1="548.9" y1="362" x2="548.9" y2="405" stroke="#444" stroke-width="0.7" stroke-dasharray="3,2"/>
<line x1="557.5" y1="362" x2="557.5" y2="405" stroke="#444" stroke-width="0.7" stroke-dasharray="3,2"/>
<rect x="432" y="405" width="28.5" height="13" rx="0" fill="#fff" stroke="#222" stroke-width="1.2"/>
<circle cx="440.55" cy="411.5" r="2.6" fill="#666" stroke="#333" stroke-width="0.6"/>
<circle cx="451.95" cy="411.5" r="2.6" fill="#666" stroke="#333" stroke-width="0.6"/>
<rect x="539" y="405" width="28" height="13" rx="0" fill="#fff" stroke="#222" stroke-width="1.2"/>
<circle cx="547.4" cy="411.5" r="2.6" fill="#666" stroke="#333" stroke-width="0.6"/>
<circle cx="558.6" cy="411.5" r="2.6" fill="#666" stroke="#333" stroke-width="0.6"/>
<line x1="460" y1="404.6" x2="539" y2="404.6" stroke="#555" stroke-width="0.7" stroke-dasharray="4,2"/>
<line x1="460" y1="410.2" x2="539" y2="410.2" stroke="#555" stroke-width="0.7" stroke-dasharray="4,2"/>
<rect x="461" y="415.3" width="77" height="7" rx="0" fill="none" stroke="#3a3a3a" stroke-width="0.6"/>
<rect x="442" y="418" width="8.5" height="2.5" rx="0" fill="none" stroke="#3a3a3a" stroke-width="0.5"/>
<rect x="549" y="418" width="8.5" height="2.5" rx="0" fill="none" stroke="#3a3a3a" stroke-width="0.5"/>
<text x="478.8" y="387.2" font-size="7.59" font-weight="bold" textLength="36.3" lengthAdjust="spacingAndGlyphs" fill="#111" stroke="#111" stroke-width="0.15">PORCH</text>
<text x="477" y="401" font-size="4.14" font-weight="bold" textLength="56" lengthAdjust="spacingAndGlyphs" text-anchor="start" fill="#222">TRANSLUCENT DECKING</text>
<polyline points="452.0,418.0 452.0,428.0 548.0,428.0 548.0,418.0" fill="none" stroke="#3a3a3a" stroke-width="0.6"/>
<path d="M452,428 L452,472 C452,490 435,505 413,511" fill="none" stroke="#3a3a3a" stroke-width="0.7"/>
<path d="M548.2,419 L548.2,436.2 Q549,444.4 557.8,444.4 L620,429.4 M567.3,415.3 L614.5,415.3 L634.3,453.3 M603.6,434.2 L616.6,458.1 L652.1,449.9 M612.5,431.4 L625.5,456" fill="none" stroke="#3a3a3a" stroke-width="0.6"/>
<path d="M627.5,461.5 Q640,474 663,474.5" fill="none" stroke="#3a3a3a" stroke-width="0.5"/>
<text x="633" y="464" font-size="2.4" font-weight="bold" transform="rotate(-15 633 464)" text-anchor="start" fill="#222">3'-0"x6'-8"</text>
<polyline points="658.5,348.5 658.5,416" fill="none" stroke="#333333" stroke-width="4" stroke-linecap="square" stroke-linejoin="miter"/>
<line x1="659.3" y1="416" x2="671.25" y2="441" stroke="#333" stroke-width="1.6"/>
<polyline points="716,349 776,349 781,361" fill="none" stroke="#333333" stroke-width="4" stroke-linecap="square" stroke-linejoin="miter"/>
<line x1="781" y1="361" x2="796" y2="386" stroke="#3a3a3a" stroke-width="0.6"/>
<line x1="778.5" y1="363" x2="793.5" y2="388" stroke="#3a3a3a" stroke-width="0.6"/>
<polyline points="796,386 812,423" fill="none" stroke="#333333" stroke-width="4" stroke-linecap="square" stroke-linejoin="miter"/>
<polyline points="716.2,351.0 716.2,363.4 760.7,363.4 780.6,403.3" fill="none" stroke="#3a3a3a" stroke-width="0.6"/>
<line x1="683" y1="376.3" x2="763" y2="376.3" stroke="#555" stroke-width="0.6" stroke-dasharray="6,3.5"/>
<text x="701.4" y="387" font-size="3.2" font-weight="bold" textLength="22" lengthAdjust="spacingAndGlyphs" text-anchor="start" fill="#222">MUD RM</text>
<text x="697" y="391" font-size="2.6" font-weight="bold" textLength="28" lengthAdjust="spacingAndGlyphs" text-anchor="start" fill="#222">5'-0" x 7'-0"</text>
<text x="703" y="395" font-size="2.6" font-weight="bold" textLength="14" lengthAdjust="spacingAndGlyphs" text-anchor="start" fill="#222">VINYL</text>
<text x="682.2" y="372" font-size="2.6" font-weight="bold" textLength="20" lengthAdjust="spacingAndGlyphs" text-anchor="start" fill="#222">STAIRS W/</text>
<text x="682.2" y="375.5" font-size="2.6" font-weight="bold" textLength="11" lengthAdjust="spacingAndGlyphs" text-anchor="start" fill="#222">GATE</text>
<text x="682.2" y="379" font-size="2.6" font-weight="bold" textLength="14" lengthAdjust="spacingAndGlyphs" text-anchor="start" fill="#222">BELOW</text>
<text x="739.6" y="369.5" font-size="2.6" font-weight="bold" textLength="12" lengthAdjust="spacingAndGlyphs" text-anchor="start" fill="#222">OPEN</text>
<text x="739.6" y="373" font-size="2.6" font-weight="bold" textLength="18" lengthAdjust="spacingAndGlyphs" text-anchor="start" fill="#222">SHELVES</text>
<text x="739.6" y="376.5" font-size="2.6" font-weight="bold" textLength="14" lengthAdjust="spacingAndGlyphs" text-anchor="start" fill="#222">ABOVE</text>
<polygon points="745.1,400.4 772.3,393.6 774.9,404.2 747.7,411.0" fill="#fff" stroke="#444" stroke-width="0.6"/>
<text x="749" y="405" font-size="2.2" font-weight="bold" transform="rotate(-14 749 405)" text-anchor="start" fill="#222">STORAGE</text>
<text x="751" y="409" font-size="2.2" font-weight="bold" transform="rotate(-14 751 409)" text-anchor="start" fill="#222">BENCH</text>
<line x1="679.8" y1="406.8" x2="679.8" y2="415" stroke="#3a3a3a" stroke-width="0.6"/>
<text x="668" y="401" font-size="2.4" font-weight="bold" text-anchor="start" fill="#222">1/2</text>
<polyline points="651,450 691,440.3 702.5,467.4" fill="none" stroke="#333333" stroke-width="4.2" stroke-linecap="square" stroke-linejoin="miter"/>
<polyline points="697.8,467.4 702.5,467.4" fill="none" stroke="#333333" stroke-width="3" stroke-linecap="square" stroke-linejoin="miter"/>
<ellipse cx="682.2" cy="453.3" rx="9.4" ry="6.3" fill="none" stroke="#444" stroke-width="0.5"/>
<text x="668" y="466" font-size="2.6" font-weight="bold" transform="rotate(-20 668 466)" text-anchor="start" fill="#222">TRASH</text>
<text x="670" y="470" font-size="2.6" font-weight="bold" transform="rotate(-20 670 470)" text-anchor="start" fill="#222">ENCL.</text>
<polyline points="697.8,451.2 708.7,450.2" fill="none" stroke="#333333" stroke-width="4" stroke-linecap="square" stroke-linejoin="miter"/>
<polyline points="665.5,473.5 673,486.5" fill="none" stroke="#333333" stroke-width="3.2" stroke-linecap="square" stroke-linejoin="miter"/>
<line x1="672" y1="474" x2="679" y2="488" stroke="#3a3a3a" stroke-width="0.6"/>
<path d="M697.8,469 A20,20 0 0 1 685.8,487.7" fill="none" stroke="#3a3a3a" stroke-width="0.6"/>
<line x1="686.9" y1="482.5" x2="740" y2="468" stroke="#555" stroke-width="0.6" stroke-dasharray="5,3"/>
<line x1="708" y1="450" x2="736" y2="444.5" stroke="#3a3a3a" stroke-width="0.6"/>
<line x1="702.5" y1="460" x2="740" y2="451.25" stroke="#3a3a3a" stroke-width="0.6"/>
<line x1="699.4" y1="455.4" x2="740" y2="446" stroke="#3a3a3a" stroke-width="0.6"/>
<text x="716" y="459" font-size="2.2" font-weight="bold" transform="rotate(-15 716 459)" text-anchor="start" fill="#222">18"</text>
<text x="727" y="456" font-size="2.2" font-weight="bold" transform="rotate(-15 727 456)" text-anchor="start" fill="#222">21"</text>
<path d="M707.7,448 A26,26 0 0 1 726.5,423" fill="none" stroke="#3a3a3a" stroke-width="0.5"/>
<line x1="726.5" y1="423" x2="733" y2="446" stroke="#3a3a3a" stroke-width="0.6"/>
<text x="722" y="432" font-size="2.2" font-weight="bold" transform="rotate(70 722 432)" text-anchor="start" fill="#222">2'-8"</text>
<polyline points="730,420 803,401" fill="none" stroke="#333333" stroke-width="4" stroke-linecap="square" stroke-linejoin="miter"/>
<polyline points="730,420 743,442" fill="none" stroke="#333333" stroke-width="4" stroke-linecap="square" stroke-linejoin="miter"/>
<polyline points="743,442 868,408" fill="none" stroke="#383838" stroke-width="4" stroke-linecap="square" stroke-linejoin="miter"/>
<polyline points="868,408 969,599 936.5,644" fill="none" stroke="#383838" stroke-width="3.8" stroke-linecap="square" stroke-linejoin="miter"/>
<polygon points="743.3,420.6 757.8,416.7 760.7,427.4 746.2,431.3" fill="#fff" stroke="#444" stroke-width="0.6"/>
<polygon points="761.3,415.6 775.8,411.7 778.7,422.4 764.2,426.3" fill="#fff" stroke="#444" stroke-width="0.6"/>
<text x="746" y="426" font-size="2.4" font-weight="bold" transform="rotate(-15 746 426)" text-anchor="start" fill="#222">PLMR</text>
<text x="764" y="421" font-size="2.4" font-weight="bold" transform="rotate(-15 764 421)" text-anchor="start" fill="#222">PLMR</text>
<ellipse cx="793" cy="414" rx="7" ry="5" fill="none" stroke="#444" stroke-width="0.6" transform="rotate(-15 793 414)"/>
<text x="789" y="415.5" font-size="2.4" font-weight="bold" text-anchor="start" fill="#222">BW</text>
<polygon points="745.1,400.4 772.3,393.6 774.9,404.2 747.7,411.0" fill="#fff" stroke="#444" stroke-width="0.6"/>
<path d="M857.3,450.4 A24,24 0 0 1 878.8,426.7" fill="none" stroke="#3a3a3a" stroke-width="0.5"/>
<line x1="857.3" y1="450.4" x2="882" y2="444" stroke="#3a3a3a" stroke-width="0.6"/>
<text x="861" y="448" font-size="2.2" font-weight="bold" transform="rotate(-15 861 448)" text-anchor="start" fill="#222">3'-0"x6'-8"</text>
<polygon points="880.0,422.4 914.3,413.9 926.0,437.5 886.3,448.2" fill="none" stroke="#444" stroke-width="0.6"/>
<text x="887.4" y="423.5" font-size="2.4" font-weight="bold" transform="rotate(-14 887.4 423.5)" text-anchor="start" fill="#222">4'x8'x4"</text>
<text x="887.4" y="428.5" font-size="2.6" font-weight="bold" textLength="26" lengthAdjust="spacingAndGlyphs" transform="rotate(-14 887.4 428.5)" text-anchor="start" fill="#222">CONCRETE</text>
<text x="820.8" y="362" font-size="2.6" font-weight="bold" textLength="34" lengthAdjust="spacingAndGlyphs" text-anchor="start" fill="#222">MECHANICAL</text>
<text x="820.8" y="365.8" font-size="2.6" font-weight="bold" textLength="32" lengthAdjust="spacingAndGlyphs" text-anchor="start" fill="#222">ENCLOSURE</text>
<text x="820.8" y="369.6" font-size="2.6" font-weight="bold" textLength="34" lengthAdjust="spacingAndGlyphs" text-anchor="start" fill="#222">GRAVEL FILL</text>
<text x="811" y="384" font-size="2.4" font-weight="bold" textLength="52" lengthAdjust="spacingAndGlyphs" text-anchor="start" fill="#222">8' CEDAR  FENCE  W/  GATE</text>
<text x="811" y="387" font-size="2.4" font-weight="bold" textLength="40" lengthAdjust="spacingAndGlyphs" text-anchor="start" fill="#222">5 0 8 6  0  0  6</text>
<path d="M799.3,388 Q803,382 811,382" fill="none" stroke="#3a3a3a" stroke-width="0.5"/>
<text x="883.1" y="383.0" font-size="2.7" font-weight="bold" textLength="52" lengthAdjust="spacingAndGlyphs" text-anchor="start" fill="#222">5'-0" HIGH PRIVACY</text>
<text x="883.1" y="386.7" font-size="2.7" font-weight="bold" textLength="48" lengthAdjust="spacingAndGlyphs" text-anchor="start" fill="#222">SCREEN AT MECH.</text>
<text x="883.1" y="390.4" font-size="2.7" font-weight="bold" textLength="60" lengthAdjust="spacingAndGlyphs" text-anchor="start" fill="#222">ENCLOSURE W/ SIDING</text>
<text x="883.1" y="394.1" font-size="2.7" font-weight="bold" textLength="45" lengthAdjust="spacingAndGlyphs" text-anchor="start" fill="#222">TO MATCH HOUSE</text>
<path d="M870.2,388 Q874,381 883,381" fill="none" stroke="#3a3a3a" stroke-width="0.5"/>
<line x1="837" y1="319.3" x2="869.2" y2="319.3" stroke="#3a3a3a" stroke-width="0.6"/>
<line x1="837" y1="321.8" x2="866" y2="321.8" stroke="#3a3a3a" stroke-width="0.6"/>
<line x1="869.2" y1="319.3" x2="869.2" y2="354.8" stroke="#3a3a3a" stroke-width="0.6"/>
<line x1="865.5" y1="321.8" x2="865.5" y2="354.8" stroke="#3a3a3a" stroke-width="0.6"/>
<line x1="865.5" y1="354.8" x2="869.2" y2="354.8" stroke="#3a3a3a" stroke-width="0.6"/>
<line x1="869.2" y1="374" x2="869.2" y2="407.4" stroke="#3a3a3a" stroke-width="0.6"/>
<line x1="865.5" y1="374" x2="865.5" y2="408" stroke="#3a3a3a" stroke-width="0.6"/>
<line x1="865.5" y1="374" x2="869.2" y2="374" stroke="#3a3a3a" stroke-width="0.6"/>
<line x1="869" y1="355" x2="887.4" y2="369.8" stroke="#3a3a3a" stroke-width="0.8"/>
<rect x="809.6" y="333.3" width="28.8" height="23.6" rx="0" fill="#fff" stroke="#3a3a3a" stroke-width="0.6"/>
<path d="M812,337 Q812,335.5 815,335.5 L833,335.5 Q836,335.5 836,338 L836,352 Q836,354.5 833,354.5 L815,354.5 Q812,354.5 812,352 Z" fill="none" stroke="#3a3a3a" stroke-width="0.5"/>
<ellipse cx="824" cy="345" rx="7.8" ry="5.6" fill="none" stroke="#444" stroke-width="0.6"/>
<text x="819.5" y="346.6" font-size="2.8" font-weight="bold" text-anchor="start" fill="#222">A/C</text>
<text x="786" y="370" font-size="2.4" font-weight="bold" transform="rotate(62 786 370)" text-anchor="start" fill="#222">4'-0" CSMT</text>
<g transform="translate(769.5 493.3) rotate(-14.9)">
<path d="M-68.0,-18.5 L64.0,-18.5 Q76.0,-18.5 76.0,-8.5 L76.0,8.5 Q76.0,18.5 64.0,18.5 L-68.0,18.5 Q-76.0,18.5 -76.0,10.5 L-76.0,-10.5 Q-76.0,-18.5 -68.0,-18.5 Z" fill="#fff" stroke="#333" stroke-width="0.7"/>
<path d="M-68.0,-16.0 L63.0,-16.0 Q73.5,-16.0 73.5,-7.5 L73.5,7.5 Q73.5,16.0 63.0,16.0 L-68.0,16.0 Q-73.5,16.0 -73.5,10.5 L-73.5,-10.5 Q-73.5,-16.0 -68.0,-16.0 Z" fill="none" stroke="#666" stroke-width="0.45"/>
<path d="M-47.12,-11.5 Q-59.28,0 -47.12,11.5 L-31.919999999999998,12.5 Q-27.36,0 -31.919999999999998,-12.5 Z" fill="none" stroke="#3a3a3a" stroke-width="0.5"/>
<path d="M-26.599999999999998,-13.5 L9.12,-13.5 M-26.599999999999998,13.5 L9.12,13.5" fill="none" stroke="#3a3a3a" stroke-width="0.5"/>
<path d="M9.12,-13.5 Q21.28,-13.5 27.36,0 Q21.28,13.5 9.12,13.5 Q15.200000000000001,0 9.12,-13.5" fill="none" stroke="#3a3a3a" stroke-width="0.5"/>
<line x1="30.400000000000002" y1="-13.5" x2="70.0" y2="-10.5" stroke="#3a3a3a" stroke-width="0.5"/>
<line x1="30.400000000000002" y1="13.5" x2="70.0" y2="10.5" stroke="#3a3a3a" stroke-width="0.5"/>
<path d="M-38.0,-16.0 L-26.599999999999998,-13.5 M9.12,-13.5 L16.72,-16.0" fill="none" stroke="#3a3a3a" stroke-width="0.5"/>
<path d="M-38.0,16.0 L-26.599999999999998,13.5 M9.12,13.5 L16.72,16.0" fill="none" stroke="#3a3a3a" stroke-width="0.5"/>
</g>
<g transform="translate(796.6 541.3) rotate(-14)">
<path d="M-71.0,-20.0 L67.0,-20.0 Q79.0,-20.0 79.0,-10.0 L79.0,10.0 Q79.0,20.0 67.0,20.0 L-71.0,20.0 Q-79.0,20.0 -79.0,12.0 L-79.0,-12.0 Q-79.0,-20.0 -71.0,-20.0 Z" fill="#fff" stroke="#333" stroke-width="0.7"/>
<path d="M-71.0,-17.5 L66.0,-17.5 Q76.5,-17.5 76.5,-9.0 L76.5,9.0 Q76.5,17.5 66.0,17.5 L-71.0,17.5 Q-76.5,17.5 -76.5,12.0 L-76.5,-12.0 Q-76.5,-17.5 -71.0,-17.5 Z" fill="none" stroke="#666" stroke-width="0.45"/>
<rect x="-74.0" y="-14.0" width="8" height="28" rx="0" fill="none" stroke="#444" stroke-width="0.5"/>
<path d="M-66.0,-14.0 L27.65,-14.0 L27.65,14.0 L-66.0,14.0" fill="none" stroke="#3a3a3a" stroke-width="0.5"/>
<path d="M27.65,-14.0 Q48.98,-16.0 48.98,0 Q48.98,16.0 27.65,14.0" fill="none" stroke="#3a3a3a" stroke-width="0.5"/>
<path d="M41.08,-15.0 Q56.879999999999995,0 41.08,15.0" fill="none" stroke="#3a3a3a" stroke-width="0.5"/>
<line x1="55.3" y1="-14.0" x2="73.0" y2="-12.0" stroke="#3a3a3a" stroke-width="0.5"/>
<line x1="55.3" y1="14.0" x2="73.0" y2="12.0" stroke="#3a3a3a" stroke-width="0.5"/>
<path d="M-15.8,-17.0 L-3.95,-14.0 L11.85,-14.0 L23.7,-17.0" fill="none" stroke="#3a3a3a" stroke-width="0.5"/>
<path d="M-15.8,17.0 L-3.95,14.0 L11.85,14.0 L23.7,17.0" fill="none" stroke="#3a3a3a" stroke-width="0.5"/>
</g>
<polygon points="681.7,485.0 744.0,467.8 796.5,566.7 730.6,583.8" fill="none" stroke="#555" stroke-width="0.6" stroke-dasharray="5,3"/>
<text x="839" y="517" font-size="8.5" font-weight="bold" fill="#111" stroke="#111" stroke-width="0.4" textLength="46" lengthAdjust="spacingAndGlyphs" transform="rotate(20 839 517)">GARAGE</text>
<line x1="651" y1="450" x2="725" y2="588" stroke="#333" stroke-width="1.4"/>
<text x="685" y="470" font-size="2.4" font-weight="bold" transform="rotate(62 685 470)" text-anchor="start" fill="#222">2ND FLR ABOVE</text>
<text x="693" y="520" font-size="2.4" font-weight="bold" transform="rotate(62 693 520)" text-anchor="start" fill="#222">2ND FLOOR</text>
<text x="688" y="525" font-size="2.4" font-weight="bold" transform="rotate(62 688 525)" text-anchor="start" fill="#222">DN STAIRS BELOW</text>
<text x="942" y="541" font-size="2.4" font-weight="bold" transform="rotate(62 942 541)" text-anchor="start" fill="#222">8'-0" GALV. DR.</text>
<rect x="0" y="0" width="0" height="0" rx="0" fill="none" stroke="#3a3a3a" stroke-width="0.7"/>
<g transform="rotate(62 949.5 562)">
<rect x="934.8" y="559.8" width="29.4" height="4.4" rx="0" fill="#fff" stroke="#3a3a3a" stroke-width="0.6"/>
</g>
<polyline points="687.3,654 678.6,665.7 734.2,680.4 716.6,699.9 822,733.5 831,713 933.6,747 989,662 936.5,644" fill="none" stroke="#383838" stroke-width="4" stroke-linecap="square" stroke-linejoin="miter"/>
<line x1="725" y1="591" x2="687.3" y2="654" stroke="#333" stroke-width="1.3"/>
<polyline points="723,587 727,593" fill="none" stroke="#383838" stroke-width="4" stroke-linecap="square" stroke-linejoin="miter"/>
<polyline points="782,597 936.5,644" fill="none" stroke="#383838" stroke-width="3.8" stroke-linecap="square" stroke-linejoin="miter"/>
<polyline points="840,584 824,607" fill="none" stroke="#383838" stroke-width="3.8" stroke-linecap="square" stroke-linejoin="miter"/>
<path d="M723,592 Q740,586 757.5,586.5" fill="none" stroke="#333333" stroke-width="3.8"/>
<path d="M757.5,588 Q757,606 769.2,611" fill="none" stroke="#3a3a3a" stroke-width="0.6"/>
<line x1="769.2" y1="611" x2="777.4" y2="595.8" stroke="#333" stroke-width="1.0"/>
<text x="771" y="609" font-size="2.6" font-weight="bold" transform="rotate(-62 771 609)" text-anchor="start" fill="#222">2'-8"</text>
<g transform="rotate(18 768.5 716.5)">
<rect x="749" y="714" width="39" height="5" rx="0" fill="#fff" stroke="#3a3a3a" stroke-width="0.6"/>
</g>
<text x="750" y="722" font-size="2.2" font-weight="bold" transform="rotate(18 750 722)" text-anchor="start" fill="#222">DOUBLE HUNG</text>
<line x1="788" y1="724" x2="783" y2="736" stroke="#3a3a3a" stroke-width="0.4"/>
<text x="774" y="736" font-size="2.4" font-weight="bold" transform="rotate(18 774 736)" text-anchor="start" fill="#222">CULTURED STONE</text>
<text x="781" y="605.5" font-size="3.2" font-weight="bold" textLength="40" lengthAdjust="spacingAndGlyphs" transform="rotate(17 781 605.5)" text-anchor="start" fill="#222">LOCKED UPPER</text>
<text x="783" y="610.5" font-size="3.2" font-weight="bold" textLength="20" lengthAdjust="spacingAndGlyphs" transform="rotate(17 783 610.5)" text-anchor="start" fill="#222">GARAGE</text>
<text x="692" y="644" font-size="3.0" font-weight="bold" textLength="38" lengthAdjust="spacingAndGlyphs" transform="rotate(-58 692 644)" text-anchor="start" fill="#222">STAIRS TO LOCKED</text>
<text x="696.5" y="646" font-size="3.0" font-weight="bold" textLength="34" lengthAdjust="spacingAndGlyphs" transform="rotate(-58 696.5 646)" text-anchor="start" fill="#222">UPPER GARAGE</text>
<polygon points="726.4,599.3 792.7,621.6 758.0,676.4 689.3,656.0" fill="none" stroke="#555" stroke-width="0.6" stroke-dasharray="5,3"/>
<path d="M717.8,629 C725,630.5 735,632 760,633 C785,634 801,635 830,640 C850,644 865,648 877.8,651.9 C900,659 918,665 928.5,671 Q942,677 941,683.6 L923,715 Q918,718 908,716.7 C885,712 870,708 857.4,704 C845,699 833,693 822,688.7 C805,682 792,678 783.8,674 C775,670 768,667 763.5,664 C752,657 740,648 733,642 C726,636 721,632 717.8,629 Z" fill="#fff" stroke="#333" stroke-width="0.7"/>
<path d="M722,631 C729,632.5 738,634.5 760,635.5 C785,636.5 801,637.5 829,642.5 C849,646.5 864,650.5 876.5,654.5 C898,661.5 915,667.5 925,673.5 Q937,679 936,684.5 L920,711.5 Q916,714 908,713 C886,709 871,705 858,701 C846,696 834,691 823,686 C806,679.5 793,675.5 785,671.5 C776,667.5 769,664.5 765,661.5 C754,655 743,646.5 736,641 C729,636 725,633 722,631" fill="none" stroke="#555" stroke-width="0.5"/>
<line x1="717.8" y1="629" x2="761" y2="628.3" stroke="#333" stroke-width="0.8"/>
<path d="M740.6,634 C760,636 780,640 800,643 M740.6,634 C752,645 765,657 776,664.6" fill="none" stroke="#3a3a3a" stroke-width="0.5"/>
<path d="M801.6,643 C795,648 790,656 791.4,664.6 C795,674 805,681 814,686" fill="none" stroke="#3a3a3a" stroke-width="0.5"/>
<path d="M806,642 C825,645 845,650 862,656 L868,660 L858,690 L852,694 C840,692 830,688 820,684" fill="none" stroke="#3a3a3a" stroke-width="0.5"/>
<path d="M806,642 Q797,650 800,660 L808,664 L800,672 Q805,680 818,684" fill="none" stroke="#3a3a3a" stroke-width="0.5"/>
<rect x="0" y="0" width="0" height="0" rx="0" fill="none" stroke="#3a3a3a" stroke-width="0.7"/>
<g transform="rotate(18 838 657)"><rect x="827" y="651" width="19" height="11" fill="none" stroke="#444" stroke-width="0.5"/><line x1="842" y1="651" x2="842" y2="662" stroke="#444" stroke-width="0.5"/></g>
<g transform="rotate(18 826 676)"><rect x="815" y="670" width="19" height="11" fill="none" stroke="#444" stroke-width="0.5"/><line x1="830" y1="670" x2="830" y2="681" stroke="#444" stroke-width="0.5"/></g>
<line x1="893" y1="664" x2="877.8" y2="706.5" stroke="#3a3a3a" stroke-width="0.5"/>
<line x1="913" y1="670" x2="898" y2="711" stroke="#3a3a3a" stroke-width="0.5"/>
<line x1="870" y1="659" x2="858" y2="700" stroke="#3a3a3a" stroke-width="0.5"/>
<g transform="rotate(18 935 700)"><rect x="930" y="696" width="10" height="8" fill="#fff" stroke="#444" stroke-width="0.6"/></g>
<g transform="rotate(18 890 657)"><rect x="879" y="654" width="22" height="6" fill="#fff" stroke="#444" stroke-width="0.6"/></g>
<g transform="rotate(18 858 703)"><rect x="847" y="700" width="22" height="6" fill="#fff" stroke="#444" stroke-width="0.6"/></g>
<path d="M842.6,591.3 Q860,597 870,597 Q880,601 890,604 Q900,607 910,612 Q925,617 938.7,622.7" fill="none" stroke="#666" stroke-width="1.6"/>
<path d="M842.6,591.3 Q860,597 870,597 Q880,601 890,604 Q900,607 910,612 Q925,617 938.7,622.7" fill="none" stroke="#fff" stroke-width="0.6"/>
<g transform="translate(872.5 566.7) rotate(123.7)">
<rect x="0" y="-1.2" width="46.51161145348538" height="2.4" rx="1.2" fill="#aaa" stroke="#444" stroke-width="0.6"/>
<ellipse cx="14.0" cy="-2.6" rx="2.2" ry="1.5" fill="#fff" stroke="#555" stroke-width="0.5"/>
<ellipse cx="14.0" cy="2.6" rx="2.2" ry="1.5" fill="#fff" stroke="#555" stroke-width="0.5"/>
<ellipse cx="10.2" cy="0" rx="2.2" ry="1.8" fill="#fff" stroke="#555" stroke-width="0.5"/>
<line x1="20.93022515406842" y1="-4.5" x2="20.93022515406842" y2="4.5" stroke="#555" stroke-width="0.6"/>
</g>
<g transform="translate(889.5 572.6) rotate(124.1)">
<rect x="0" y="-1.2" width="46.0135849505339" height="2.4" rx="1.2" fill="#aaa" stroke="#444" stroke-width="0.6"/>
<ellipse cx="13.8" cy="-2.6" rx="2.2" ry="1.5" fill="#fff" stroke="#555" stroke-width="0.5"/>
<ellipse cx="13.8" cy="2.6" rx="2.2" ry="1.5" fill="#fff" stroke="#555" stroke-width="0.5"/>
<ellipse cx="10.1" cy="0" rx="2.2" ry="1.8" fill="#fff" stroke="#555" stroke-width="0.5"/>
<line x1="20.706113227740254" y1="-4.5" x2="20.706113227740254" y2="4.5" stroke="#555" stroke-width="0.6"/>
</g>
<g transform="translate(907 579) rotate(124.4)">
<rect x="0" y="-1.2" width="45.46141220859733" height="2.4" rx="1.2" fill="#aaa" stroke="#444" stroke-width="0.6"/>
<ellipse cx="13.6" cy="-2.6" rx="2.2" ry="1.5" fill="#fff" stroke="#555" stroke-width="0.5"/>
<ellipse cx="13.6" cy="2.6" rx="2.2" ry="1.5" fill="#fff" stroke="#555" stroke-width="0.5"/>
<ellipse cx="10.0" cy="0" rx="2.2" ry="1.8" fill="#fff" stroke="#555" stroke-width="0.5"/>
<line x1="20.4576354938688" y1="-4.5" x2="20.4576354938688" y2="4.5" stroke="#555" stroke-width="0.6"/>
</g>
<g transform="translate(928.2 585.7) rotate(124.2)">
<rect x="0" y="-1.2" width="45.848118827275805" height="2.4" rx="1.2" fill="#aaa" stroke="#444" stroke-width="0.6"/>
<ellipse cx="13.8" cy="-2.6" rx="2.2" ry="1.5" fill="#fff" stroke="#555" stroke-width="0.5"/>
<ellipse cx="13.8" cy="2.6" rx="2.2" ry="1.5" fill="#fff" stroke="#555" stroke-width="0.5"/>
<ellipse cx="10.1" cy="0" rx="2.2" ry="1.8" fill="#fff" stroke="#555" stroke-width="0.5"/>
<line x1="20.631653472274113" y1="-4.5" x2="20.631653472274113" y2="4.5" stroke="#555" stroke-width="0.6"/>
</g>
<g transform="translate(945.7 591.9) rotate(124.4)">
<rect x="0" y="-1.2" width="45.46141220859733" height="2.4" rx="1.2" fill="#aaa" stroke="#444" stroke-width="0.6"/>
<ellipse cx="13.6" cy="-2.6" rx="2.2" ry="1.5" fill="#fff" stroke="#555" stroke-width="0.5"/>
<ellipse cx="13.6" cy="2.6" rx="2.2" ry="1.5" fill="#fff" stroke="#555" stroke-width="0.5"/>
<ellipse cx="10.0" cy="0" rx="2.2" ry="1.8" fill="#fff" stroke="#555" stroke-width="0.5"/>
<line x1="20.4576354938688" y1="-4.5" x2="20.4576354938688" y2="4.5" stroke="#555" stroke-width="0.6"/>
</g>
<text x="893" y="566" font-size="2.8" font-weight="bold" transform="rotate(22 893 566)" text-anchor="start" fill="#222">BIKE</text>
<text x="890" y="570.5" font-size="2.8" font-weight="bold" transform="rotate(22 890 570.5)" text-anchor="start" fill="#222">STORAGE</text>
<text x="464" y="476.7" font-size="10.4" font-weight="bold" fill="#111" stroke="#111" stroke-width="0.15" textLength="6.8" lengthAdjust="spacingAndGlyphs">F</text>
<rect x="475.2" y="469.2" width="1.4" height="3.2" rx="0" fill="#111" stroke="none" stroke-width="0"/>
<text x="489" y="476.7" font-size="10.4" font-weight="bold" fill="#111" stroke="#111" stroke-width="0.15" textLength="10.0" lengthAdjust="spacingAndGlyphs">O</text>
<text x="504.8" y="476.7" font-size="10.4" font-weight="bold" fill="#111" stroke="#111" stroke-width="0.15" textLength="10.0" lengthAdjust="spacingAndGlyphs">O</text>
<text x="521.4" y="476.7" font-size="10.4" font-weight="bold" fill="#111" stroke="#111" stroke-width="0.15" textLength="9.2" lengthAdjust="spacingAndGlyphs">R</text>
<text x="548.9" y="476.7" font-size="10.4" font-weight="bold" fill="#111" stroke="#111" stroke-width="0.15" textLength="9.1" lengthAdjust="spacingAndGlyphs">P</text>
<text x="563" y="476.7" font-size="10.4" font-weight="bold" fill="#111" stroke="#111" stroke-width="0.15" textLength="8.3" lengthAdjust="spacingAndGlyphs">L</text>
<text x="574.6" y="476.7" font-size="10.4" font-weight="bold" fill="#111" stroke="#111" stroke-width="0.15" textLength="11.6" lengthAdjust="spacingAndGlyphs">A</text>
<text x="590.4" y="476.7" font-size="10.4" font-weight="bold" fill="#111" stroke="#111" stroke-width="0.15" textLength="10.8" lengthAdjust="spacingAndGlyphs">N</text>
<text x="464" y="483.3" font-size="2.8" font-weight="bold" textLength="9" lengthAdjust="spacingAndGlyphs" text-anchor="start" fill="#222">SCA</text>
<text x="505" y="483.3" font-size="2.8" font-weight="bold" textLength="24" lengthAdjust="spacingAndGlyphs" text-anchor="start" fill="#222">MAIN   FLOOR</text>
<text x="555" y="483.3" font-size="2.8" font-weight="bold" textLength="8" lengthAdjust="spacingAndGlyphs" text-anchor="start" fill="#222">CON</text>
<text x="581" y="483.3" font-size="2.8" font-weight="bold" textLength="20" lengthAdjust="spacingAndGlyphs" text-anchor="start" fill="#222">2,4 2 S.F.</text>
<text x="514.8" y="487.6" font-size="2.8" font-weight="bold" textLength="61" lengthAdjust="spacingAndGlyphs" text-anchor="start" fill="#222">AREA: SECOND FLOOR=</text>
<text x="586" y="487.6" font-size="2.8" font-weight="bold" textLength="15" lengthAdjust="spacingAndGlyphs" text-anchor="start" fill="#222">311 S.F.</text>
<line x1="505" y1="488.8" x2="612.8" y2="488.8" stroke="#333" stroke-width="0.6"/>
<text x="516.5" y="492.6" font-size="2.8" font-weight="bold" textLength="55" lengthAdjust="spacingAndGlyphs" text-anchor="start" fill="#222">TOTAL     LIVING SPACE=</text>
<text x="583" y="492.6" font-size="2.8" font-weight="bold" textLength="21.5" lengthAdjust="spacingAndGlyphs" text-anchor="start" fill="#222">2,751 S.F.</text>
<text x="541.4" y="497.6" font-size="2.8" font-weight="bold" textLength="20" lengthAdjust="spacingAndGlyphs" text-anchor="start" fill="#222">GARAGE</text>
<text x="588.7" y="497.6" font-size="2.8" font-weight="bold" textLength="16" lengthAdjust="spacingAndGlyphs" text-anchor="start" fill="#222">8 0 S.F.</text>
<rect x="516" y="517" width="69.9" height="39.5" rx="0" fill="#fff" stroke="#111" stroke-width="2.6"/>
<circle cx="514.6" cy="515.7" r="0.9" fill="#111" stroke="none" stroke-width="0"/>
<circle cx="587.4" cy="515.7" r="0.9" fill="#111" stroke="none" stroke-width="0"/>
<circle cx="514.6" cy="557.7" r="0.9" fill="#111" stroke="none" stroke-width="0"/>
<circle cx="587.4" cy="557.7" r="0.9" fill="#111" stroke="none" stroke-width="0"/>
<rect x="519" y="534.3" width="66" height="3.9" rx="0" fill="#111" stroke="none" stroke-width="0"/>
<line x1="521" y1="539.6" x2="585" y2="539.6" stroke="#888" stroke-width="1.0"/>
<polyline points="540.0,518.5 519.5,536.2 540.0,555.0" fill="none" stroke="#111" stroke-width="4.6"/>
<text x="527.3" y="572" font-size="9.6" font-weight="bold" fill="#111" stroke="#111" stroke-width="0.1" textLength="51.3" lengthAdjust="spacingAndGlyphs">NORTH</text>
<text x="50.7" y="165.0" font-size="3" font-weight="bold" textLength="52" lengthAdjust="spacingAndGlyphs" text-anchor="start" fill="#222">5'-0" HIGH PRIVACY</text>
<text x="50.7" y="168.7" font-size="3" font-weight="bold" textLength="48" lengthAdjust="spacingAndGlyphs" text-anchor="start" fill="#222">SCREEN AT HOT TUB</text>
<text x="50.7" y="172.4" font-size="3" font-weight="bold" textLength="58" lengthAdjust="spacingAndGlyphs" text-anchor="start" fill="#222">ENCLOSURE W/ SIDING</text>
<text x="50.7" y="176.1" font-size="3" font-weight="bold" textLength="45" lengthAdjust="spacingAndGlyphs" text-anchor="start" fill="#222">TO MATCH HOUSE</text>
<line x1="111" y1="163" x2="118" y2="163" stroke="#3a3a3a" stroke-width="0.5"/>
<text x="154" y="165.5" font-size="3" font-weight="bold" textLength="24" lengthAdjust="spacingAndGlyphs" text-anchor="start" fill="#222">OUTDOOR</text>
<text x="154" y="169.3" font-size="3" font-weight="bold" textLength="24" lengthAdjust="spacingAndGlyphs" text-anchor="start" fill="#222">STORAGE</text>
<text x="154" y="173" font-size="3" font-weight="bold" textLength="12" lengthAdjust="spacingAndGlyphs" text-anchor="start" fill="#222">AREA</text>
</svg></body></html>
